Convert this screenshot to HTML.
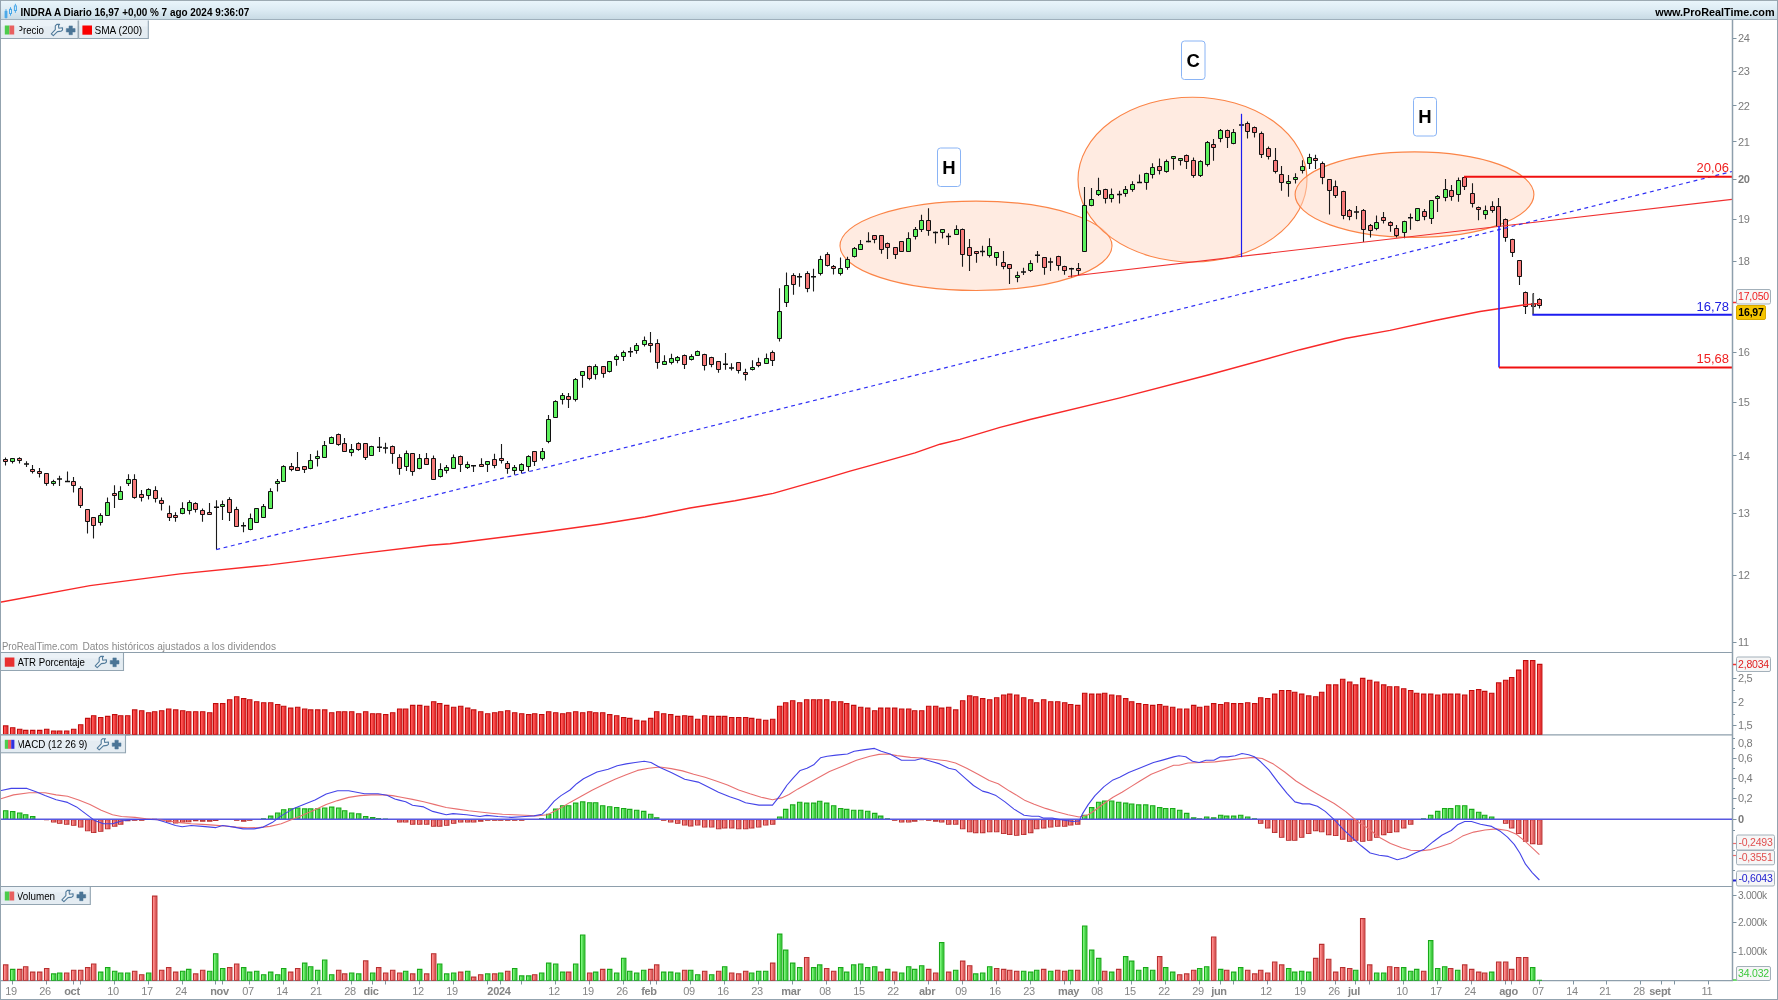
<!DOCTYPE html>
<html><head><meta charset="utf-8"><title>INDRA A Diario</title>
<style>
html,body{margin:0;padding:0;background:#fff;}
body{width:1778px;height:1000px;position:relative;overflow:hidden;font-family:"Liberation Sans",sans-serif;}
#hdr{position:absolute;left:0;top:0;width:1778px;height:20px;box-sizing:border-box;border-top:1px solid #9caab2;border-bottom:1px solid #9fb0bc;background:linear-gradient(#e9f5fb 0%,#dcebf3 50%,#c9dbe5 100%);}
#hdr .t{position:absolute;left:21px;top:4.5px;font-size:10.5px;font-weight:bold;color:#000;white-space:nowrap;line-height:12px;letter-spacing:-0.1px}
#hdr .r{position:absolute;right:3.5px;top:4.5px;font-size:10.5px;font-weight:bold;color:#000;white-space:nowrap;line-height:12px;}
.frame{position:absolute;background:#93a3af}
.tb{position:absolute;box-sizing:border-box;background:#e4ecf2;border:1px solid #a5b4c0;border-left:none;height:18.5px;font-size:10.5px;line-height:17px;color:#000;white-space:nowrap;letter-spacing:-0.2px}
.tb i{position:absolute;top:4px;width:9px;height:9px;display:block}
.tb span{position:absolute;top:0}
.foot{position:absolute;left:2px;top:641px;font-size:10px;color:#8a8a8a;white-space:nowrap;line-height:12px;letter-spacing:-0.12px}
</style></head><body>
<div id="hdr">
</div>
<svg width="1778" height="1000" viewBox="0 0 1778 1000" style="position:absolute;left:0;top:0;will-change:transform" font-family="Liberation Sans, sans-serif">
<defs>
<linearGradient id="gg" x1="0" x2="1" y1="0" y2="0"><stop offset="0" stop-color="#35c835"/><stop offset="0.35" stop-color="#6af06a"/><stop offset="1" stop-color="#2fb82f"/></linearGradient>
<linearGradient id="gr" x1="0" x2="1" y1="0" y2="0"><stop offset="0" stop-color="#d84a4a"/><stop offset="0.35" stop-color="#f08080"/><stop offset="1" stop-color="#cf4545"/></linearGradient>
<linearGradient id="ga" x1="0" x2="1" y1="0" y2="0"><stop offset="0" stop-color="#d81e1e"/><stop offset="0.4" stop-color="#f54444"/><stop offset="1" stop-color="#cc1a1a"/></linearGradient>
<clipPath id="cp"><rect x="1" y="21" width="1731" height="631"/></clipPath>
</defs>
<ellipse cx="976" cy="245.8" rx="136" ry="44.7" fill="#ffd7c3" fill-opacity="0.5" stroke="#fb8548" stroke-width="1.15"/>
<ellipse cx="1192.5" cy="179.6" rx="114.5" ry="82.4" fill="#ffd7c3" fill-opacity="0.5" stroke="#fb8548" stroke-width="1.15"/>
<ellipse cx="1414.5" cy="194.6" rx="119.4" ry="42.8" fill="#ffd7c3" fill-opacity="0.5" stroke="#fb8548" stroke-width="1.15"/>
<path d="M5.5,457.6V465.4M12.5,458.3V463.6M19.5,457.3V463.6M26.5,461.2V467.1M32.5,465.1V473.6M39.5,468.0V477.5M46.5,473.3V485.7M53.5,479.8V485.7M59.5,475.8V485.9M67.5,471.4V482.0M73.5,477.1V492.4M80.5,486.2V508.0M87.5,509.3V533.4M93.5,516.9V538.6M100.5,513.2V525.6M107.5,497.4V515.6M114.5,485.3V508.0M120.5,486.2V499.6M128.5,474.2V485.9M134.5,474.2V498.7M141.5,490.1V501.5M148.5,488.3V499.6M155.5,486.2V502.6M161.5,497.4V510.6M169.5,505.4V521.0M175.5,512.2V521.7M182.5,502.2V514.3M189.5,500.2V514.5M195.5,502.2V512.6M202.5,508.4V521.7M209.5,503.1V514.5M216.5,500.2V549.6M222.5,500.4V519.9M229.5,497.2V521.0M236.5,506.7V526.4M243.5,522.3V532.3M250.5,513.4V530.3M256.5,508.2V522.5M263.5,503.9V517.6M270.5,488.3V508.5M277.5,479.0V491.6M283.5,465.3V481.8M291.5,463.1V471.2M297.5,452.0V470.8M304.5,466.0V472.9M310.5,453.9V469.2M317.5,450.4V466.6M324.5,441.0V457.8M331.5,436.4V443.9M338.5,433.5V445.8M344.5,438.0V452.0M351.5,443.9V456.2M358.5,442.3V450.7M365.5,442.9V459.9M371.5,445.8V455.6M379.5,437.1V451.9M385.5,442.8V453.6M392.5,445.5V463.8M399.5,454.3V474.8M406.5,450.4V470.9M412.5,453.0V475.7M419.5,453.9V469.2M426.5,453.0V464.7M433.5,455.6V479.9M440.5,463.2V477.5M446.5,465.0V473.4M453.5,454.5V469.0M460.5,455.6V471.9M467.5,461.5V469.0M473.5,465.0V471.9M481.5,458.2V466.4M487.5,461.5V471.9M494.5,453.8V468.3M501.5,444.1V463.5M507.5,461.1V473.7M514.5,465.0V474.8M521.5,463.2V473.4M528.5,455.3V471.2M534.5,450.9V466.1M542.5,448.0V460.6M548.5,415.1V443.2M555.5,400.2V417.1M562.5,392.9V404.5M568.5,392.9V408.1M575.5,378.0V401.6M582.5,370.9V387.8M589.5,365.8V380.3M595.5,364.2V379.4M603.5,366.1V377.7M609.5,361.0V372.6M616.5,354.5V365.8M623.5,350.4V361.0M630.5,347.2V357.1M636.5,342.9V353.8M644.5,336.4V346.6M650.5,332.1V352.4M657.5,339.3V368.8M664.5,355.3V364.4M671.5,353.8V364.4M677.5,356.0V363.2M684.5,354.5V369.0M691.5,354.3V360.6M697.5,350.5V356.0M704.5,353.8V370.5M711.5,356.7V367.3M718.5,361.1V372.7M725.5,353.1V369.8M731.5,363.2V370.5M738.5,362.1V373.4M745.5,368.8V380.4M752.5,360.3V370.5M758.5,357.7V367.3M766.5,353.4V363.2M772.5,350.5V366.1M779.5,288.3V341.5M786.5,272.6V307.0M793.5,273.3V294.8M799.5,273.3V286.7M807.5,271.2V292.2M813.5,268.7V291.5M820.5,255.7V275.5M827.5,252.3V266.4M833.5,264.9V274.5M840.5,257.4V275.4M847.5,256.8V269.8M854.5,246.9V257.4M860.5,240.1V249.6M868.5,232.3V242.2M874.5,235.2V243.2M881.5,235.2V253.7M887.5,242.6V259.0M895.5,247.2V259.0M901.5,241.0V251.5M908.5,232.3V251.5M915.5,226.9V239.5M921.5,214.7V232.1M928.5,208.3V235.8M935.5,231.5V243.5M942.5,229.0V238.5M948.5,233.3V245.1M956.5,225.3V234.8M962.5,228.6V266.7M969.5,239.1V271.0M976.5,250.9V262.8M982.5,245.7V256.2M989.5,238.3V257.4M996.5,251.9V265.7M1003.5,250.9V269.2M1009.5,264.0V284.0M1017.5,271.4V282.2M1023.5,267.7V275.1M1030.5,260.3V271.9M1037.5,250.9V262.8M1044.5,257.4V274.8M1050.5,257.8V271.0M1058.5,255.7V270.5M1064.5,265.8V274.7M1071.5,267.7V277.2M1078.5,262.9V275.3M1084.5,186.9V251.5M1091.5,187.9V206.3M1098.5,177.8V196.0M1105.5,188.8V203.6M1111.5,188.4V202.5M1119.5,190.7V203.6M1125.5,186.0V196.8M1132.5,181.2V191.7M1139.5,174.6V183.1M1146.5,172.7V189.8M1152.5,163.2V178.4M1159.5,158.4V174.6M1166.5,159.4V172.7M1173.5,156.1V169.8M1180.5,158.0V165.6M1186.5,154.6V168.9M1193.5,157.5V177.8M1200.5,160.3V177.0M1207.5,140.9V166.4M1213.5,139.0V160.7M1220.5,129.0V142.3M1227.5,129.5V148.0M1233.5,129.0V144.2M1241.5,122.3V128.0M1247.5,121.4V138.5M1254.5,126.5V137.5M1261.5,131.4V158.0M1268.5,146.6V159.4M1275.5,148.0V173.6M1281.5,166.0V190.7M1288.5,175.1V196.8M1295.5,173.2V183.5M1302.5,160.3V173.6M1309.5,153.8V169.0M1315.5,154.7V169.0M1322.5,161.4V184.2M1329.5,179.0V214.6M1335.5,180.4V198.0M1343.5,190.8V219.3M1349.5,208.9V220.3M1356.5,206.0V219.3M1363.5,208.9V242.1M1370.5,224.1V237.4M1376.5,215.5V230.3M1383.5,212.1V223.5M1390.5,221.2V231.7M1396.5,225.0V237.4M1404.5,220.8V238.3M1410.5,213.6V229.8M1417.5,207.9V221.2M1424.5,208.9V220.3M1431.5,199.9V224.1M1437.5,195.0V212.1M1445.5,179.0V201.3M1451.5,185.1V200.7M1458.5,177.5V201.8M1464.5,176.6V189.9M1472.5,183.2V207.5M1478.5,206.4V220.3M1485.5,205.6V219.3M1492.5,201.3V212.7M1498.5,198.0V226.5M1505.5,218.4V241.7M1512.5,238.7V256.9M1519.5,260.2V284.9M1525.5,291.5V313.9M1533.5,293.0V307.7M1539.5,298.2V308.6" stroke="#1a1a1a" stroke-width="1.1" fill="none"/>
<path d="M10.5,458.5h4v3.0h-4zM51.5,481.5h4v2.0h-4zM98.5,515.5h4v7.0h-4zM105.5,502.5h4v13.0h-4zM118.5,491.5h4v8.0h-4zM126.5,479.5h4v4.0h-4zM146.5,489.5h4v6.0h-4zM180.5,508.5h4v5.0h-4zM187.5,502.5h4v8.0h-4zM220.5,504.5h4v2.0h-4zM248.5,518.5h4v11.0h-4zM254.5,508.5h4v14.0h-4zM261.5,506.5h4v11.0h-4zM268.5,491.5h4v17.0h-4zM275.5,481.5h4v2.0h-4zM281.5,466.5h4v15.0h-4zM308.5,460.5h4v8.0h-4zM315.5,456.5h4v2.0h-4zM322.5,445.5h4v12.0h-4zM329.5,437.5h4v6.0h-4zM349.5,449.5h4v3.0h-4zM369.5,446.5h4v9.0h-4zM404.5,453.5h4v13.0h-4zM417.5,458.5h4v10.0h-4zM438.5,469.5h4v7.0h-4zM444.5,467.5h4v3.0h-4zM451.5,457.5h4v11.0h-4zM465.5,464.5h4v3.0h-4zM485.5,461.5h4v3.0h-4zM512.5,467.5h4v3.0h-4zM519.5,464.5h4v6.0h-4zM526.5,456.5h4v10.0h-4zM540.5,451.5h4v7.0h-4zM546.5,419.5h4v22.0h-4zM553.5,401.5h4v16.0h-4zM560.5,395.5h4v4.0h-4zM573.5,379.5h4v20.0h-4zM580.5,371.5h4v4.0h-4zM593.5,366.5h4v8.0h-4zM607.5,361.5h4v10.0h-4zM614.5,356.5h4v3.0h-4zM621.5,352.5h4v4.0h-4zM634.5,345.5h4v5.0h-4zM642.5,340.5h4v4.0h-4zM662.5,361.5h4v3.0h-4zM669.5,358.5h4v4.0h-4zM675.5,357.5h4v3.0h-4zM689.5,356.5h4v3.0h-4zM695.5,351.5h4v4.0h-4zM750.5,367.5h4v2.0h-4zM764.5,358.5h4v5.0h-4zM777.5,311.5h4v27.0h-4zM784.5,285.5h4v17.0h-4zM818.5,259.5h4v14.0h-4zM838.5,268.5h4v5.0h-4zM845.5,259.5h4v8.0h-4zM852.5,248.5h4v8.0h-4zM858.5,244.5h4v5.0h-4zM906.5,238.5h4v13.0h-4zM913.5,229.5h4v7.0h-4zM919.5,220.5h4v9.0h-4zM940.5,229.5h4v3.0h-4zM954.5,229.5h4v5.0h-4zM987.5,246.5h4v9.0h-4zM994.5,252.5h4v5.0h-4zM1015.5,275.5h4v2.0h-4zM1028.5,263.5h4v7.0h-4zM1082.5,205.5h4v46.0h-4zM1089.5,199.5h4v6.0h-4zM1096.5,190.5h4v4.0h-4zM1109.5,194.5h4v4.0h-4zM1123.5,189.5h4v4.0h-4zM1130.5,184.5h4v5.0h-4zM1144.5,173.5h4v9.0h-4zM1150.5,167.5h4v7.0h-4zM1164.5,161.5h4v10.0h-4zM1171.5,156.5h4v2.0h-4zM1178.5,158.5h4v2.0h-4zM1198.5,161.5h4v14.0h-4zM1205.5,142.5h4v22.0h-4zM1218.5,130.5h4v8.0h-4zM1231.5,132.5h4v11.0h-4zM1286.5,181.5h4v2.0h-4zM1293.5,177.5h4v2.0h-4zM1300.5,166.5h4v4.0h-4zM1307.5,157.5h4v6.0h-4zM1374.5,222.5h4v6.0h-4zM1402.5,221.5h4v11.0h-4zM1415.5,208.5h4v12.0h-4zM1429.5,200.5h4v18.0h-4zM1435.5,196.5h4v2.0h-4zM1443.5,189.5h4v8.0h-4zM1456.5,180.5h4v14.0h-4zM1483.5,210.5h4v4.0h-4z" fill="#5df05d" stroke="#101010" stroke-width="1"/>
<path d="M3.5,459.5h4v2.0h-4zM17.5,458.5h4v2.0h-4zM30.5,469.5h4v2.0h-4zM37.5,471.5h4v2.0h-4zM44.5,473.5h4v10.0h-4zM71.5,481.5h4v4.0h-4zM78.5,488.5h4v17.0h-4zM85.5,509.5h4v12.0h-4zM91.5,517.5h4v8.0h-4zM112.5,493.5h4v2.0h-4zM132.5,479.5h4v18.0h-4zM139.5,494.5h4v3.0h-4zM153.5,490.5h4v8.0h-4zM159.5,500.5h4v3.0h-4zM167.5,513.5h4v4.0h-4zM173.5,515.5h4v2.0h-4zM193.5,503.5h4v6.0h-4zM200.5,510.5h4v4.0h-4zM207.5,512.5h4v2.0h-4zM227.5,499.5h4v13.0h-4zM234.5,509.5h4v17.0h-4zM289.5,466.5h4v3.0h-4zM295.5,467.5h4v3.0h-4zM302.5,466.5h4v3.0h-4zM336.5,434.5h4v10.0h-4zM342.5,443.5h4v8.0h-4zM356.5,443.5h4v6.0h-4zM363.5,443.5h4v14.0h-4zM390.5,446.5h4v7.0h-4zM397.5,457.5h4v11.0h-4zM410.5,453.5h4v18.0h-4zM424.5,458.5h4v6.0h-4zM431.5,458.5h4v21.0h-4zM458.5,456.5h4v8.0h-4zM479.5,464.5h4v2.0h-4zM492.5,459.5h4v6.0h-4zM499.5,458.5h4v2.0h-4zM505.5,463.5h4v5.0h-4zM532.5,451.5h4v10.0h-4zM566.5,396.5h4v3.0h-4zM587.5,366.5h4v12.0h-4zM601.5,366.5h4v7.0h-4zM648.5,343.5h4v2.0h-4zM655.5,343.5h4v19.0h-4zM682.5,355.5h4v9.0h-4zM702.5,354.5h4v11.0h-4zM709.5,357.5h4v7.0h-4zM716.5,361.5h4v8.0h-4zM736.5,362.5h4v8.0h-4zM743.5,372.5h4v2.0h-4zM756.5,362.5h4v3.0h-4zM770.5,352.5h4v8.0h-4zM791.5,275.5h4v9.0h-4zM805.5,273.5h4v15.0h-4zM825.5,254.5h4v11.0h-4zM831.5,266.5h4v2.0h-4zM872.5,235.5h4v4.0h-4zM879.5,235.5h4v14.0h-4zM885.5,243.5h4v4.0h-4zM893.5,247.5h4v7.0h-4zM899.5,241.5h4v10.0h-4zM926.5,220.5h4v10.0h-4zM960.5,229.5h4v25.0h-4zM967.5,247.5h4v8.0h-4zM974.5,251.5h4v2.0h-4zM1001.5,262.5h4v4.0h-4zM1007.5,264.5h4v4.0h-4zM1042.5,257.5h4v10.0h-4zM1056.5,256.5h4v9.0h-4zM1062.5,266.5h4v4.0h-4zM1076.5,268.5h4v2.0h-4zM1103.5,189.5h4v9.0h-4zM1157.5,166.5h4v4.0h-4zM1184.5,155.5h4v6.0h-4zM1191.5,160.5h4v15.0h-4zM1211.5,144.5h4v3.0h-4zM1225.5,130.5h4v7.0h-4zM1245.5,123.5h4v8.0h-4zM1252.5,127.5h4v5.0h-4zM1259.5,133.5h4v21.0h-4zM1266.5,148.5h4v8.0h-4zM1273.5,160.5h4v11.0h-4zM1279.5,174.5h4v8.0h-4zM1313.5,158.5h4v2.0h-4zM1320.5,163.5h4v14.0h-4zM1327.5,179.5h4v11.0h-4zM1333.5,186.5h4v9.0h-4zM1341.5,191.5h4v24.0h-4zM1347.5,210.5h4v6.0h-4zM1361.5,210.5h4v19.0h-4zM1368.5,225.5h4v5.0h-4zM1381.5,217.5h4v3.0h-4zM1388.5,222.5h4v3.0h-4zM1394.5,228.5h4v7.0h-4zM1422.5,211.5h4v5.0h-4zM1449.5,190.5h4v6.0h-4zM1462.5,177.5h4v9.0h-4zM1470.5,193.5h4v10.0h-4zM1476.5,207.5h4v2.0h-4zM1490.5,206.5h4v4.0h-4zM1496.5,206.5h4v20.0h-4zM1503.5,219.5h4v18.0h-4zM1510.5,239.5h4v13.0h-4zM1517.5,260.5h4v16.0h-4zM1523.5,292.5h4v14.0h-4zM1531.5,303.5h4v3.0h-4zM1537.5,299.5h4v6.0h-4z" fill="#f57878" stroke="#101010" stroke-width="1"/>
<path d="M24.0,464.1h5M57.0,479.1h5M65.0,481.6h5M214.0,507.2h5M241.0,525.7h5M377.0,447.2h5M383.0,448.1h5M471.0,465.8h5M628.0,351.8h5M723.0,364.3h5M729.0,368.0h5M797.0,276.7h5M811.0,276.8h5M866.0,241.5h5M933.0,232.4h5M946.0,236.5h5M980.0,251.5h5M1021.0,272.0h5M1035.0,255.2h5M1048.0,261.9h5M1069.0,268.7h5M1117.0,194.4h5M1137.0,182.4h5M1239.0,124.9h5M1354.0,212.0h5M1408.0,217.7h5" stroke="#101010" stroke-width="1.5" fill="none"/>
<polyline points="0.0,602.2 90.0,585.6 180.0,573.9 270.0,564.9 360.0,553.6 430.0,545.3 450.0,543.7 540.0,532.5 600.0,524.2 645.0,517.0 690.0,508.0 735.0,500.8 773.2,493.4 825.0,478.7 850.0,471.2 870.0,465.7 915.0,452.9 940.0,444.2 960.0,439.4 1000.0,427.4 1030.0,419.5 1120.0,397.9 1210.0,374.5 1300.0,349.7 1345.0,338.5 1390.0,330.4 1435.0,320.5 1480.0,311.5 1525.0,304.7 1540.6,303.4" fill="none" stroke="#f82828" stroke-width="1.4"/>
<line x1="1068" y1="276.5" x2="1732" y2="199.3" stroke="#f03030" stroke-width="1.2"/>
<line x1="216.3" y1="549.6" x2="1732" y2="171.5" stroke="#3030f5" stroke-width="1.2" stroke-dasharray="3.9,3.6"/>
<line x1="1241.5" y1="113.8" x2="1241.5" y2="257.2" stroke="#1c1cf0" stroke-width="1.2"/>
<path d="M1464,176.8 H1732" stroke="#f01010" stroke-width="2" fill="none"/>
<path d="M1499,226 V367.5" stroke="#2222f8" stroke-width="1.6" fill="none"/>
<path d="M1499,367.5 H1732" stroke="#f01010" stroke-width="2" fill="none"/>
<path d="M1533.1,293.6 V314.6" stroke="#5c5c5c" stroke-width="1.8" fill="none"/>
<path d="M1532.4,314.8 H1732" stroke="#1c1cf0" stroke-width="2" fill="none"/>
<rect x="937.5" y="148" width="23" height="38.5" rx="3" fill="#fff" stroke="#8ab4f5" stroke-width="1"/>
<text x="949.0" y="173.85" font-size="18.5" font-weight="bold" text-anchor="middle" fill="#000">H</text>
<rect x="1181.5" y="41" width="23.5" height="38.5" rx="3" fill="#fff" stroke="#8ab4f5" stroke-width="1"/>
<text x="1193.25" y="66.85" font-size="18.5" font-weight="bold" text-anchor="middle" fill="#000">C</text>
<rect x="1413.5" y="97.5" width="23" height="38.5" rx="3" fill="#fff" stroke="#8ab4f5" stroke-width="1"/>
<text x="1425.0" y="123.35" font-size="18.5" font-weight="bold" text-anchor="middle" fill="#000">H</text>
<text x="1729" y="172.2" font-size="13" text-anchor="end" fill="#f02020">20,06</text>
<text x="1729" y="311.3" font-size="13" text-anchor="end" fill="#2020e0">16,78</text>
<text x="1729" y="362.8" font-size="13" text-anchor="end" fill="#f02020">15,68</text>
<line x1="0" y1="652.5" x2="1732" y2="652.5" stroke="#8e9fac" stroke-width="1.2"/>
<line x1="0" y1="734.8" x2="1732" y2="734.8" stroke="#8e9fac" stroke-width="1.2"/>
<line x1="0" y1="886.5" x2="1732" y2="886.5" stroke="#8e9fac" stroke-width="1.2"/>
<line x1="0" y1="980.6" x2="1733" y2="980.6" stroke="#8e9fac" stroke-width="1.4"/>
<line x1="1732.5" y1="20" x2="1732.5" y2="981" stroke="#8e9fac" stroke-width="1.5"/>
<path d="M3.5,725.9h4.4V734.2h-4.4zM10.5,727.7h4.4V734.2h-4.4zM17.5,729.2h4.4V734.2h-4.4zM23.5,730.4h4.4V734.2h-4.4zM30.5,730.4h4.4V734.2h-4.4zM37.5,730.4h4.4V734.2h-4.4zM44.5,729.2h4.4V734.2h-4.4zM51.5,731.0h4.4V734.2h-4.4zM57.5,731.0h4.4V734.2h-4.4zM64.5,731.0h4.4V734.2h-4.4zM71.5,729.2h4.4V734.2h-4.4zM78.5,724.7h4.4V734.2h-4.4zM85.5,718.4h4.4V734.2h-4.4zM91.5,715.7h4.4V734.2h-4.4zM98.5,717.5h4.4V734.2h-4.4zM105.5,716.4h4.4V734.2h-4.4zM112.5,714.6h4.4V734.2h-4.4zM118.5,715.7h4.4V734.2h-4.4zM125.5,715.7h4.4V734.2h-4.4zM132.5,709.9h4.4V734.2h-4.4zM139.5,710.8h4.4V734.2h-4.4zM146.5,712.8h4.4V734.2h-4.4zM152.5,711.7h4.4V734.2h-4.4zM159.5,710.8h4.4V734.2h-4.4zM166.5,709.0h4.4V734.2h-4.4zM173.5,709.9h4.4V734.2h-4.4zM180.5,710.8h4.4V734.2h-4.4zM186.5,711.7h4.4V734.2h-4.4zM193.5,711.7h4.4V734.2h-4.4zM200.5,711.7h4.4V734.2h-4.4zM207.5,712.8h4.4V734.2h-4.4zM213.5,703.6h4.4V734.2h-4.4zM220.5,703.6h4.4V734.2h-4.4zM227.5,699.8h4.4V734.2h-4.4zM234.5,696.8h4.4V734.2h-4.4zM241.5,698.6h4.4V734.2h-4.4zM247.5,699.8h4.4V734.2h-4.4zM254.5,701.8h4.4V734.2h-4.4zM261.5,702.7h4.4V734.2h-4.4zM268.5,702.7h4.4V734.2h-4.4zM275.5,704.5h4.4V734.2h-4.4zM281.5,706.3h4.4V734.2h-4.4zM288.5,708.1h4.4V734.2h-4.4zM295.5,707.2h4.4V734.2h-4.4zM302.5,709.0h4.4V734.2h-4.4zM308.5,709.9h4.4V734.2h-4.4zM315.5,709.9h4.4V734.2h-4.4zM322.5,709.9h4.4V734.2h-4.4zM329.5,712.8h4.4V734.2h-4.4zM336.5,711.7h4.4V734.2h-4.4zM342.5,711.7h4.4V734.2h-4.4zM349.5,711.7h4.4V734.2h-4.4zM356.5,713.7h4.4V734.2h-4.4zM363.5,711.7h4.4V734.2h-4.4zM370.5,713.7h4.4V734.2h-4.4zM376.5,713.7h4.4V734.2h-4.4zM383.5,714.6h4.4V734.2h-4.4zM390.5,712.8h4.4V734.2h-4.4zM397.5,709.0h4.4V734.2h-4.4zM403.5,709.0h4.4V734.2h-4.4zM410.5,705.4h4.4V734.2h-4.4zM417.5,705.4h4.4V734.2h-4.4zM424.5,706.3h4.4V734.2h-4.4zM431.5,701.8h4.4V734.2h-4.4zM437.5,703.6h4.4V734.2h-4.4zM444.5,705.4h4.4V734.2h-4.4zM451.5,707.2h4.4V734.2h-4.4zM458.5,706.3h4.4V734.2h-4.4zM465.5,708.1h4.4V734.2h-4.4zM471.5,709.9h4.4V734.2h-4.4zM478.5,711.7h4.4V734.2h-4.4zM485.5,713.7h4.4V734.2h-4.4zM492.5,712.8h4.4V734.2h-4.4zM498.5,711.7h4.4V734.2h-4.4zM505.5,710.8h4.4V734.2h-4.4zM512.5,712.8h4.4V734.2h-4.4zM519.5,713.7h4.4V734.2h-4.4zM526.5,714.6h4.4V734.2h-4.4zM532.5,713.7h4.4V734.2h-4.4zM539.5,714.6h4.4V734.2h-4.4zM546.5,711.7h4.4V734.2h-4.4zM553.5,712.8h4.4V734.2h-4.4zM560.5,713.7h4.4V734.2h-4.4zM566.5,712.8h4.4V734.2h-4.4zM573.5,711.7h4.4V734.2h-4.4zM580.5,712.8h4.4V734.2h-4.4zM587.5,711.7h4.4V734.2h-4.4zM593.5,712.8h4.4V734.2h-4.4zM600.5,712.8h4.4V734.2h-4.4zM607.5,714.6h4.4V734.2h-4.4zM614.5,715.7h4.4V734.2h-4.4zM621.5,717.5h4.4V734.2h-4.4zM627.5,718.4h4.4V734.2h-4.4zM634.5,720.2h4.4V734.2h-4.4zM641.5,721.1h4.4V734.2h-4.4zM648.5,718.4h4.4V734.2h-4.4zM654.5,711.7h4.4V734.2h-4.4zM661.5,713.7h4.4V734.2h-4.4zM668.5,714.6h4.4V734.2h-4.4zM675.5,716.4h4.4V734.2h-4.4zM682.5,715.7h4.4V734.2h-4.4zM688.5,716.4h4.4V734.2h-4.4zM695.5,719.3h4.4V734.2h-4.4zM702.5,715.7h4.4V734.2h-4.4zM709.5,716.4h4.4V734.2h-4.4zM716.5,716.4h4.4V734.2h-4.4zM722.5,716.4h4.4V734.2h-4.4zM729.5,717.5h4.4V734.2h-4.4zM736.5,717.5h4.4V734.2h-4.4zM743.5,717.5h4.4V734.2h-4.4zM749.5,718.4h4.4V734.2h-4.4zM756.5,719.3h4.4V734.2h-4.4zM763.5,720.2h4.4V734.2h-4.4zM770.5,719.3h4.4V734.2h-4.4zM777.5,706.3h4.4V734.2h-4.4zM783.5,702.7h4.4V734.2h-4.4zM790.5,700.7h4.4V734.2h-4.4zM797.5,702.7h4.4V734.2h-4.4zM804.5,699.8h4.4V734.2h-4.4zM811.5,699.8h4.4V734.2h-4.4zM817.5,699.8h4.4V734.2h-4.4zM824.5,699.8h4.4V734.2h-4.4zM831.5,701.8h4.4V734.2h-4.4zM838.5,701.8h4.4V734.2h-4.4zM844.5,703.6h4.4V734.2h-4.4zM851.5,705.4h4.4V734.2h-4.4zM858.5,707.2h4.4V734.2h-4.4zM865.5,708.1h4.4V734.2h-4.4zM872.5,710.8h4.4V734.2h-4.4zM878.5,708.1h4.4V734.2h-4.4zM885.5,708.1h4.4V734.2h-4.4zM892.5,708.1h4.4V734.2h-4.4zM899.5,709.0h4.4V734.2h-4.4zM906.5,709.0h4.4V734.2h-4.4zM912.5,710.8h4.4V734.2h-4.4zM919.5,710.8h4.4V734.2h-4.4zM926.5,706.3h4.4V734.2h-4.4zM933.5,706.3h4.4V734.2h-4.4zM939.5,708.1h4.4V734.2h-4.4zM946.5,707.2h4.4V734.2h-4.4zM953.5,709.9h4.4V734.2h-4.4zM960.5,700.7h4.4V734.2h-4.4zM967.5,695.9h4.4V734.2h-4.4zM973.5,696.8h4.4V734.2h-4.4zM980.5,698.6h4.4V734.2h-4.4zM987.5,699.8h4.4V734.2h-4.4zM994.5,697.7h4.4V734.2h-4.4zM1001.5,695.0h4.4V734.2h-4.4zM1007.5,694.1h4.4V734.2h-4.4zM1014.5,695.0h4.4V734.2h-4.4zM1021.5,697.7h4.4V734.2h-4.4zM1028.5,699.8h4.4V734.2h-4.4zM1034.5,702.7h4.4V734.2h-4.4zM1041.5,699.8h4.4V734.2h-4.4zM1048.5,701.8h4.4V734.2h-4.4zM1055.5,701.8h4.4V734.2h-4.4zM1062.5,702.7h4.4V734.2h-4.4zM1068.5,704.5h4.4V734.2h-4.4zM1075.5,705.4h4.4V734.2h-4.4zM1082.5,693.2h4.4V734.2h-4.4zM1089.5,694.1h4.4V734.2h-4.4zM1096.5,694.1h4.4V734.2h-4.4zM1102.5,693.2h4.4V734.2h-4.4zM1109.5,695.0h4.4V734.2h-4.4zM1116.5,695.9h4.4V734.2h-4.4zM1123.5,698.6h4.4V734.2h-4.4zM1129.5,701.8h4.4V734.2h-4.4zM1136.5,703.6h4.4V734.2h-4.4zM1143.5,704.5h4.4V734.2h-4.4zM1150.5,705.4h4.4V734.2h-4.4zM1157.5,704.5h4.4V734.2h-4.4zM1163.5,706.3h4.4V734.2h-4.4zM1170.5,707.2h4.4V734.2h-4.4zM1177.5,709.0h4.4V734.2h-4.4zM1184.5,709.0h4.4V734.2h-4.4zM1191.5,705.4h4.4V734.2h-4.4zM1197.5,707.2h4.4V734.2h-4.4zM1204.5,706.3h4.4V734.2h-4.4zM1211.5,703.6h4.4V734.2h-4.4zM1218.5,704.5h4.4V734.2h-4.4zM1224.5,702.7h4.4V734.2h-4.4zM1231.5,703.6h4.4V734.2h-4.4zM1238.5,703.6h4.4V734.2h-4.4zM1245.5,702.7h4.4V734.2h-4.4zM1252.5,703.6h4.4V734.2h-4.4zM1258.5,697.7h4.4V734.2h-4.4zM1265.5,698.6h4.4V734.2h-4.4zM1272.5,694.1h4.4V734.2h-4.4zM1279.5,690.5h4.4V734.2h-4.4zM1286.5,690.5h4.4V734.2h-4.4zM1292.5,692.3h4.4V734.2h-4.4zM1299.5,694.1h4.4V734.2h-4.4zM1306.5,695.9h4.4V734.2h-4.4zM1313.5,696.8h4.4V734.2h-4.4zM1319.5,692.3h4.4V734.2h-4.4zM1326.5,684.9h4.4V734.2h-4.4zM1333.5,684.9h4.4V734.2h-4.4zM1340.5,679.3h4.4V734.2h-4.4zM1347.5,682.0h4.4V734.2h-4.4zM1353.5,684.9h4.4V734.2h-4.4zM1360.5,678.4h4.4V734.2h-4.4zM1367.5,680.2h4.4V734.2h-4.4zM1374.5,682.0h4.4V734.2h-4.4zM1381.5,684.9h4.4V734.2h-4.4zM1387.5,686.7h4.4V734.2h-4.4zM1394.5,686.7h4.4V734.2h-4.4zM1401.5,688.7h4.4V734.2h-4.4zM1408.5,690.5h4.4V734.2h-4.4zM1414.5,693.2h4.4V734.2h-4.4zM1421.5,694.1h4.4V734.2h-4.4zM1428.5,694.1h4.4V734.2h-4.4zM1435.5,695.0h4.4V734.2h-4.4zM1442.5,694.1h4.4V734.2h-4.4zM1448.5,694.1h4.4V734.2h-4.4zM1455.5,694.1h4.4V734.2h-4.4zM1462.5,695.0h4.4V734.2h-4.4zM1469.5,690.5h4.4V734.2h-4.4zM1476.5,689.6h4.4V734.2h-4.4zM1482.5,691.4h4.4V734.2h-4.4zM1489.5,693.2h4.4V734.2h-4.4zM1496.5,682.9h4.4V734.2h-4.4zM1503.5,680.2h4.4V734.2h-4.4zM1509.5,677.5h4.4V734.2h-4.4zM1516.5,670.1h4.4V734.2h-4.4zM1523.5,660.6h4.4V734.2h-4.4zM1530.5,660.6h4.4V734.2h-4.4zM1537.5,664.4h4.4V734.2h-4.4z" fill="#f04040" stroke="#c00c0c" stroke-width="1.1"/>
<path d="M4.7,726.6V734.0M11.7,728.4V734.0M18.7,729.9V734.0M24.7,731.1V734.0M31.7,731.1V734.0M38.7,731.1V734.0M45.7,729.9V734.0M52.7,731.7V734.0M58.7,731.7V734.0M65.7,731.7V734.0M72.7,729.9V734.0M79.7,725.4V734.0M86.7,719.1V734.0M92.7,716.4V734.0M99.7,718.2V734.0M106.7,717.1V734.0M113.7,715.3V734.0M119.7,716.4V734.0M126.7,716.4V734.0M133.7,710.6V734.0M140.7,711.5V734.0M147.7,713.5V734.0M153.7,712.4V734.0M160.7,711.5V734.0M167.7,709.7V734.0M174.7,710.6V734.0M181.7,711.5V734.0M187.7,712.4V734.0M194.7,712.4V734.0M201.7,712.4V734.0M208.7,713.5V734.0M214.7,704.3V734.0M221.7,704.3V734.0M228.7,700.5V734.0M235.7,697.5V734.0M242.7,699.3V734.0M248.7,700.5V734.0M255.7,702.5V734.0M262.7,703.4V734.0M269.7,703.4V734.0M276.7,705.2V734.0M282.7,707.0V734.0M289.7,708.8V734.0M296.7,707.9V734.0M303.7,709.7V734.0M309.7,710.6V734.0M316.7,710.6V734.0M323.7,710.6V734.0M330.7,713.5V734.0M337.7,712.4V734.0M343.7,712.4V734.0M350.7,712.4V734.0M357.7,714.4V734.0M364.7,712.4V734.0M371.7,714.4V734.0M377.7,714.4V734.0M384.7,715.3V734.0M391.7,713.5V734.0M398.7,709.7V734.0M404.7,709.7V734.0M411.7,706.1V734.0M418.7,706.1V734.0M425.7,707.0V734.0M432.7,702.5V734.0M438.7,704.3V734.0M445.7,706.1V734.0M452.7,707.9V734.0M459.7,707.0V734.0M466.7,708.8V734.0M472.7,710.6V734.0M479.7,712.4V734.0M486.7,714.4V734.0M493.7,713.5V734.0M499.7,712.4V734.0M506.7,711.5V734.0M513.7,713.5V734.0M520.7,714.4V734.0M527.7,715.3V734.0M533.7,714.4V734.0M540.7,715.3V734.0M547.7,712.4V734.0M554.7,713.5V734.0M561.7,714.4V734.0M567.7,713.5V734.0M574.7,712.4V734.0M581.7,713.5V734.0M588.7,712.4V734.0M594.7,713.5V734.0M601.7,713.5V734.0M608.7,715.3V734.0M615.7,716.4V734.0M622.7,718.2V734.0M628.7,719.1V734.0M635.7,720.9V734.0M642.7,721.8V734.0M649.7,719.1V734.0M655.7,712.4V734.0M662.7,714.4V734.0M669.7,715.3V734.0M676.7,717.1V734.0M683.7,716.4V734.0M689.7,717.1V734.0M696.7,720.0V734.0M703.7,716.4V734.0M710.7,717.1V734.0M717.7,717.1V734.0M723.7,717.1V734.0M730.7,718.2V734.0M737.7,718.2V734.0M744.7,718.2V734.0M750.7,719.1V734.0M757.7,720.0V734.0M764.7,720.9V734.0M771.7,720.0V734.0M778.7,707.0V734.0M784.7,703.4V734.0M791.7,701.4V734.0M798.7,703.4V734.0M805.7,700.5V734.0M812.7,700.5V734.0M818.7,700.5V734.0M825.7,700.5V734.0M832.7,702.5V734.0M839.7,702.5V734.0M845.7,704.3V734.0M852.7,706.1V734.0M859.7,707.9V734.0M866.7,708.8V734.0M873.7,711.5V734.0M879.7,708.8V734.0M886.7,708.8V734.0M893.7,708.8V734.0M900.7,709.7V734.0M907.7,709.7V734.0M913.7,711.5V734.0M920.7,711.5V734.0M927.7,707.0V734.0M934.7,707.0V734.0M940.7,708.8V734.0M947.7,707.9V734.0M954.7,710.6V734.0M961.7,701.4V734.0M968.7,696.6V734.0M974.7,697.5V734.0M981.7,699.3V734.0M988.7,700.5V734.0M995.7,698.4V734.0M1002.7,695.7V734.0M1008.7,694.8V734.0M1015.7,695.7V734.0M1022.7,698.4V734.0M1029.7,700.5V734.0M1035.7,703.4V734.0M1042.7,700.5V734.0M1049.7,702.5V734.0M1056.7,702.5V734.0M1063.7,703.4V734.0M1069.7,705.2V734.0M1076.7,706.1V734.0M1083.7,693.9V734.0M1090.7,694.8V734.0M1097.7,694.8V734.0M1103.7,693.9V734.0M1110.7,695.7V734.0M1117.7,696.6V734.0M1124.7,699.3V734.0M1130.7,702.5V734.0M1137.7,704.3V734.0M1144.7,705.2V734.0M1151.7,706.1V734.0M1158.7,705.2V734.0M1164.7,707.0V734.0M1171.7,707.9V734.0M1178.7,709.7V734.0M1185.7,709.7V734.0M1192.7,706.1V734.0M1198.7,707.9V734.0M1205.7,707.0V734.0M1212.7,704.3V734.0M1219.7,705.2V734.0M1225.7,703.4V734.0M1232.7,704.3V734.0M1239.7,704.3V734.0M1246.7,703.4V734.0M1253.7,704.3V734.0M1259.7,698.4V734.0M1266.7,699.3V734.0M1273.7,694.8V734.0M1280.7,691.2V734.0M1287.7,691.2V734.0M1293.7,693.0V734.0M1300.7,694.8V734.0M1307.7,696.6V734.0M1314.7,697.5V734.0M1320.7,693.0V734.0M1327.7,685.6V734.0M1334.7,685.6V734.0M1341.7,680.0V734.0M1348.7,682.7V734.0M1354.7,685.6V734.0M1361.7,679.1V734.0M1368.7,680.9V734.0M1375.7,682.7V734.0M1382.7,685.6V734.0M1388.7,687.4V734.0M1395.7,687.4V734.0M1402.7,689.4V734.0M1409.7,691.2V734.0M1415.7,693.9V734.0M1422.7,694.8V734.0M1429.7,694.8V734.0M1436.7,695.7V734.0M1443.7,694.8V734.0M1449.7,694.8V734.0M1456.7,694.8V734.0M1463.7,695.7V734.0M1470.7,691.2V734.0M1477.7,690.3V734.0M1483.7,692.1V734.0M1490.7,693.9V734.0M1497.7,683.6V734.0M1504.7,680.9V734.0M1510.7,678.2V734.0M1517.7,670.8V734.0M1524.7,661.3V734.0M1531.7,661.3V734.0M1538.7,665.1V734.0" fill="none" stroke="#ff5656" stroke-width="1.3"/>
<path d="M6.7,726.6V734.0M13.7,728.4V734.0M20.7,729.9V734.0M26.7,731.1V734.0M33.7,731.1V734.0M40.7,731.1V734.0M47.7,729.9V734.0M54.7,731.7V734.0M60.7,731.7V734.0M67.7,731.7V734.0M74.7,729.9V734.0M81.7,725.4V734.0M88.7,719.1V734.0M94.7,716.4V734.0M101.7,718.2V734.0M108.7,717.1V734.0M115.7,715.3V734.0M121.7,716.4V734.0M128.7,716.4V734.0M135.7,710.6V734.0M142.7,711.5V734.0M149.7,713.5V734.0M155.7,712.4V734.0M162.7,711.5V734.0M169.7,709.7V734.0M176.7,710.6V734.0M183.7,711.5V734.0M189.7,712.4V734.0M196.7,712.4V734.0M203.7,712.4V734.0M210.7,713.5V734.0M216.7,704.3V734.0M223.7,704.3V734.0M230.7,700.5V734.0M237.7,697.5V734.0M244.7,699.3V734.0M250.7,700.5V734.0M257.7,702.5V734.0M264.7,703.4V734.0M271.7,703.4V734.0M278.7,705.2V734.0M284.7,707.0V734.0M291.7,708.8V734.0M298.7,707.9V734.0M305.7,709.7V734.0M311.7,710.6V734.0M318.7,710.6V734.0M325.7,710.6V734.0M332.7,713.5V734.0M339.7,712.4V734.0M345.7,712.4V734.0M352.7,712.4V734.0M359.7,714.4V734.0M366.7,712.4V734.0M373.7,714.4V734.0M379.7,714.4V734.0M386.7,715.3V734.0M393.7,713.5V734.0M400.7,709.7V734.0M406.7,709.7V734.0M413.7,706.1V734.0M420.7,706.1V734.0M427.7,707.0V734.0M434.7,702.5V734.0M440.7,704.3V734.0M447.7,706.1V734.0M454.7,707.9V734.0M461.7,707.0V734.0M468.7,708.8V734.0M474.7,710.6V734.0M481.7,712.4V734.0M488.7,714.4V734.0M495.7,713.5V734.0M501.7,712.4V734.0M508.7,711.5V734.0M515.7,713.5V734.0M522.7,714.4V734.0M529.7,715.3V734.0M535.7,714.4V734.0M542.7,715.3V734.0M549.7,712.4V734.0M556.7,713.5V734.0M563.7,714.4V734.0M569.7,713.5V734.0M576.7,712.4V734.0M583.7,713.5V734.0M590.7,712.4V734.0M596.7,713.5V734.0M603.7,713.5V734.0M610.7,715.3V734.0M617.7,716.4V734.0M624.7,718.2V734.0M630.7,719.1V734.0M637.7,720.9V734.0M644.7,721.8V734.0M651.7,719.1V734.0M657.7,712.4V734.0M664.7,714.4V734.0M671.7,715.3V734.0M678.7,717.1V734.0M685.7,716.4V734.0M691.7,717.1V734.0M698.7,720.0V734.0M705.7,716.4V734.0M712.7,717.1V734.0M719.7,717.1V734.0M725.7,717.1V734.0M732.7,718.2V734.0M739.7,718.2V734.0M746.7,718.2V734.0M752.7,719.1V734.0M759.7,720.0V734.0M766.7,720.9V734.0M773.7,720.0V734.0M780.7,707.0V734.0M786.7,703.4V734.0M793.7,701.4V734.0M800.7,703.4V734.0M807.7,700.5V734.0M814.7,700.5V734.0M820.7,700.5V734.0M827.7,700.5V734.0M834.7,702.5V734.0M841.7,702.5V734.0M847.7,704.3V734.0M854.7,706.1V734.0M861.7,707.9V734.0M868.7,708.8V734.0M875.7,711.5V734.0M881.7,708.8V734.0M888.7,708.8V734.0M895.7,708.8V734.0M902.7,709.7V734.0M909.7,709.7V734.0M915.7,711.5V734.0M922.7,711.5V734.0M929.7,707.0V734.0M936.7,707.0V734.0M942.7,708.8V734.0M949.7,707.9V734.0M956.7,710.6V734.0M963.7,701.4V734.0M970.7,696.6V734.0M976.7,697.5V734.0M983.7,699.3V734.0M990.7,700.5V734.0M997.7,698.4V734.0M1004.7,695.7V734.0M1010.7,694.8V734.0M1017.7,695.7V734.0M1024.7,698.4V734.0M1031.7,700.5V734.0M1037.7,703.4V734.0M1044.7,700.5V734.0M1051.7,702.5V734.0M1058.7,702.5V734.0M1065.7,703.4V734.0M1071.7,705.2V734.0M1078.7,706.1V734.0M1085.7,693.9V734.0M1092.7,694.8V734.0M1099.7,694.8V734.0M1105.7,693.9V734.0M1112.7,695.7V734.0M1119.7,696.6V734.0M1126.7,699.3V734.0M1132.7,702.5V734.0M1139.7,704.3V734.0M1146.7,705.2V734.0M1153.7,706.1V734.0M1160.7,705.2V734.0M1166.7,707.0V734.0M1173.7,707.9V734.0M1180.7,709.7V734.0M1187.7,709.7V734.0M1194.7,706.1V734.0M1200.7,707.9V734.0M1207.7,707.0V734.0M1214.7,704.3V734.0M1221.7,705.2V734.0M1227.7,703.4V734.0M1234.7,704.3V734.0M1241.7,704.3V734.0M1248.7,703.4V734.0M1255.7,704.3V734.0M1261.7,698.4V734.0M1268.7,699.3V734.0M1275.7,694.8V734.0M1282.7,691.2V734.0M1289.7,691.2V734.0M1295.7,693.0V734.0M1302.7,694.8V734.0M1309.7,696.6V734.0M1316.7,697.5V734.0M1322.7,693.0V734.0M1329.7,685.6V734.0M1336.7,685.6V734.0M1343.7,680.0V734.0M1350.7,682.7V734.0M1356.7,685.6V734.0M1363.7,679.1V734.0M1370.7,680.9V734.0M1377.7,682.7V734.0M1384.7,685.6V734.0M1390.7,687.4V734.0M1397.7,687.4V734.0M1404.7,689.4V734.0M1411.7,691.2V734.0M1417.7,693.9V734.0M1424.7,694.8V734.0M1431.7,694.8V734.0M1438.7,695.7V734.0M1445.7,694.8V734.0M1451.7,694.8V734.0M1458.7,694.8V734.0M1465.7,695.7V734.0M1472.7,691.2V734.0M1479.7,690.3V734.0M1485.7,692.1V734.0M1492.7,693.9V734.0M1499.7,683.6V734.0M1506.7,680.9V734.0M1512.7,678.2V734.0M1519.7,670.8V734.0M1526.7,661.3V734.0M1533.7,661.3V734.0M1540.7,665.1V734.0" fill="none" stroke="#e23030" stroke-width="0.9"/>
<path d="M3.5,810.7h4.4V818.9h-4.4zM10.5,811.6h4.4V818.9h-4.4zM17.5,813.0h4.4V818.9h-4.4zM23.5,814.8h4.4V818.9h-4.4zM30.5,816.6h4.4V818.9h-4.4zM261,818.8h5M268.5,816.1h4.4V818.9h-4.4zM275.5,813.0h4.4V818.9h-4.4zM281.5,809.8h4.4V818.9h-4.4zM288.5,808.9h4.4V818.9h-4.4zM295.5,808.0h4.4V818.9h-4.4zM302.5,808.9h4.4V818.9h-4.4zM308.5,808.9h4.4V818.9h-4.4zM315.5,808.9h4.4V818.9h-4.4zM322.5,808.0h4.4V818.9h-4.4zM329.5,807.1h4.4V818.9h-4.4zM336.5,808.0h4.4V818.9h-4.4zM342.5,810.7h4.4V818.9h-4.4zM349.5,813.0h4.4V818.9h-4.4zM356.5,813.9h4.4V818.9h-4.4zM363.5,816.6h4.4V818.9h-4.4zM370.5,817.5h4.4V818.9h-4.4zM376,818.6h5M383,819.0h5M539,818.8h5M546.5,814.3h4.4V818.9h-4.4zM553.5,809.1h4.4V818.9h-4.4zM560.5,805.8h4.4V818.9h-4.4zM566.5,805.8h4.4V818.9h-4.4zM573.5,803.1h4.4V818.9h-4.4zM580.5,801.9h4.4V818.9h-4.4zM587.5,802.8h4.4V818.9h-4.4zM593.5,802.8h4.4V818.9h-4.4zM600.5,805.8h4.4V818.9h-4.4zM607.5,806.7h4.4V818.9h-4.4zM614.5,807.6h4.4V818.9h-4.4zM621.5,808.5h4.4V818.9h-4.4zM627.5,809.4h4.4V818.9h-4.4zM634.5,810.3h4.4V818.9h-4.4zM641.5,811.4h4.4V818.9h-4.4zM648.5,814.3h4.4V818.9h-4.4zM654.5,817.7h4.4V818.9h-4.4zM777.5,817.0h4.4V818.9h-4.4zM783.5,809.4h4.4V818.9h-4.4zM790.5,804.9h4.4V818.9h-4.4zM797.5,802.2h4.4V818.9h-4.4zM804.5,803.1h4.4V818.9h-4.4zM811.5,803.1h4.4V818.9h-4.4zM817.5,801.3h4.4V818.9h-4.4zM824.5,803.1h4.4V818.9h-4.4zM831.5,805.8h4.4V818.9h-4.4zM838.5,808.5h4.4V818.9h-4.4zM844.5,809.4h4.4V818.9h-4.4zM851.5,810.3h4.4V818.9h-4.4zM858.5,810.3h4.4V818.9h-4.4zM865.5,811.2h4.4V818.9h-4.4zM872.5,813.4h4.4V818.9h-4.4zM878.5,816.1h4.4V818.9h-4.4zM885,818.8h5M1082.5,815.2h4.4V818.9h-4.4zM1089.5,807.6h4.4V818.9h-4.4zM1096.5,802.2h4.4V818.9h-4.4zM1102.5,801.0h4.4V818.9h-4.4zM1109.5,801.0h4.4V818.9h-4.4zM1116.5,802.2h4.4V818.9h-4.4zM1123.5,803.1h4.4V818.9h-4.4zM1129.5,804.0h4.4V818.9h-4.4zM1136.5,804.9h4.4V818.9h-4.4zM1143.5,804.9h4.4V818.9h-4.4zM1150.5,805.8h4.4V818.9h-4.4zM1157.5,807.6h4.4V818.9h-4.4zM1163.5,808.5h4.4V818.9h-4.4zM1170.5,808.5h4.4V818.9h-4.4zM1177.5,810.3h4.4V818.9h-4.4zM1184.5,813.4h4.4V818.9h-4.4zM1191.5,817.9h4.4V818.9h-4.4zM1197,818.9h5M1204.5,817.0h4.4V818.9h-4.4zM1211.5,817.9h4.4V818.9h-4.4zM1218.5,815.2h4.4V818.9h-4.4zM1224.5,816.1h4.4V818.9h-4.4zM1231.5,816.1h4.4V818.9h-4.4zM1238.5,815.2h4.4V818.9h-4.4zM1245.5,817.0h4.4V818.9h-4.4zM1252,818.8h5M1421,818.8h5M1428.5,815.2h4.4V818.9h-4.4zM1435.5,811.4h4.4V818.9h-4.4zM1442.5,808.5h4.4V818.9h-4.4zM1448.5,808.5h4.4V818.9h-4.4zM1455.5,805.8h4.4V818.9h-4.4zM1462.5,805.8h4.4V818.9h-4.4zM1469.5,809.4h4.4V818.9h-4.4zM1476.5,812.3h4.4V818.9h-4.4zM1482.5,815.2h4.4V818.9h-4.4zM1489.5,817.0h4.4V818.9h-4.4z" fill="#4fd84f" stroke="#18a818" stroke-width="1.1"/>
<path d="M4.7,811.4V818.7M11.7,812.3V818.7M18.7,813.7V818.7M24.7,815.5V818.7M31.7,817.3V818.7M269.7,816.8V818.7M276.7,813.7V818.7M282.7,810.5V818.7M289.7,809.6V818.7M296.7,808.7V818.7M303.7,809.6V818.7M309.7,809.6V818.7M316.7,809.6V818.7M323.7,808.7V818.7M330.7,807.8V818.7M337.7,808.7V818.7M343.7,811.4V818.7M350.7,813.7V818.7M357.7,814.6V818.7M364.7,817.3V818.7M547.7,815.0V818.7M554.7,809.8V818.7M561.7,806.5V818.7M567.7,806.5V818.7M574.7,803.8V818.7M581.7,802.6V818.7M588.7,803.5V818.7M594.7,803.5V818.7M601.7,806.5V818.7M608.7,807.4V818.7M615.7,808.3V818.7M622.7,809.2V818.7M628.7,810.1V818.7M635.7,811.0V818.7M642.7,812.1V818.7M649.7,815.0V818.7M778.7,817.7V818.7M784.7,810.1V818.7M791.7,805.6V818.7M798.7,802.9V818.7M805.7,803.8V818.7M812.7,803.8V818.7M818.7,802.0V818.7M825.7,803.8V818.7M832.7,806.5V818.7M839.7,809.2V818.7M845.7,810.1V818.7M852.7,811.0V818.7M859.7,811.0V818.7M866.7,811.9V818.7M873.7,814.1V818.7M879.7,816.8V818.7M1083.7,815.9V818.7M1090.7,808.3V818.7M1097.7,802.9V818.7M1103.7,801.7V818.7M1110.7,801.7V818.7M1117.7,802.9V818.7M1124.7,803.8V818.7M1130.7,804.7V818.7M1137.7,805.6V818.7M1144.7,805.6V818.7M1151.7,806.5V818.7M1158.7,808.3V818.7M1164.7,809.2V818.7M1171.7,809.2V818.7M1178.7,811.0V818.7M1185.7,814.1V818.7M1205.7,817.7V818.7M1219.7,815.9V818.7M1225.7,816.8V818.7M1232.7,816.8V818.7M1239.7,815.9V818.7M1246.7,817.7V818.7M1429.7,815.9V818.7M1436.7,812.1V818.7M1443.7,809.2V818.7M1449.7,809.2V818.7M1456.7,806.5V818.7M1463.7,806.5V818.7M1470.7,810.1V818.7M1477.7,813.0V818.7M1483.7,815.9V818.7M1490.7,817.7V818.7" fill="none" stroke="#7cf67c" stroke-width="1.3"/>
<path d="M6.7,811.4V818.7M13.7,812.3V818.7M20.7,813.7V818.7M26.7,815.5V818.7M33.7,817.3V818.7M271.7,816.8V818.7M278.7,813.7V818.7M284.7,810.5V818.7M291.7,809.6V818.7M298.7,808.7V818.7M305.7,809.6V818.7M311.7,809.6V818.7M318.7,809.6V818.7M325.7,808.7V818.7M332.7,807.8V818.7M339.7,808.7V818.7M345.7,811.4V818.7M352.7,813.7V818.7M359.7,814.6V818.7M366.7,817.3V818.7M549.7,815.0V818.7M556.7,809.8V818.7M563.7,806.5V818.7M569.7,806.5V818.7M576.7,803.8V818.7M583.7,802.6V818.7M590.7,803.5V818.7M596.7,803.5V818.7M603.7,806.5V818.7M610.7,807.4V818.7M617.7,808.3V818.7M624.7,809.2V818.7M630.7,810.1V818.7M637.7,811.0V818.7M644.7,812.1V818.7M651.7,815.0V818.7M780.7,817.7V818.7M786.7,810.1V818.7M793.7,805.6V818.7M800.7,802.9V818.7M807.7,803.8V818.7M814.7,803.8V818.7M820.7,802.0V818.7M827.7,803.8V818.7M834.7,806.5V818.7M841.7,809.2V818.7M847.7,810.1V818.7M854.7,811.0V818.7M861.7,811.0V818.7M868.7,811.9V818.7M875.7,814.1V818.7M881.7,816.8V818.7M1085.7,815.9V818.7M1092.7,808.3V818.7M1099.7,802.9V818.7M1105.7,801.7V818.7M1112.7,801.7V818.7M1119.7,802.9V818.7M1126.7,803.8V818.7M1132.7,804.7V818.7M1139.7,805.6V818.7M1146.7,805.6V818.7M1153.7,806.5V818.7M1160.7,808.3V818.7M1166.7,809.2V818.7M1173.7,809.2V818.7M1180.7,811.0V818.7M1187.7,814.1V818.7M1207.7,817.7V818.7M1221.7,815.9V818.7M1227.7,816.8V818.7M1234.7,816.8V818.7M1241.7,815.9V818.7M1248.7,817.7V818.7M1431.7,815.9V818.7M1438.7,812.1V818.7M1445.7,809.2V818.7M1451.7,809.2V818.7M1458.7,806.5V818.7M1465.7,806.5V818.7M1472.7,810.1V818.7M1479.7,813.0V818.7M1485.7,815.9V818.7M1492.7,817.7V818.7" fill="none" stroke="#42c842" stroke-width="0.9"/>
<path d="M44,819.8h5M51.5,819.7h4.4V822.0h-4.4zM57.5,819.7h4.4V823.2h-4.4zM64.5,819.7h4.4V824.1h-4.4zM71.5,819.7h4.4V825.2h-4.4zM78.5,819.7h4.4V827.0h-4.4zM85.5,819.7h4.4V830.8h-4.4zM91.5,819.7h4.4V832.4h-4.4zM98.5,819.7h4.4V831.3h-4.4zM105.5,819.7h4.4V828.8h-4.4zM112.5,819.7h4.4V826.1h-4.4zM118.5,819.7h4.4V824.1h-4.4zM125.5,819.7h4.4V820.7h-4.4zM132.5,819.7h4.4V820.2h-4.4zM139.5,819.7h4.4V820.2h-4.4zM146,819.5h5M152,819.4h5M159,819.5h5M166.5,819.7h4.4V821.6h-4.4zM173.5,819.7h4.4V822.9h-4.4zM180.5,819.7h4.4V822.0h-4.4zM186.5,819.7h4.4V821.8h-4.4zM193.5,819.7h4.4V820.7h-4.4zM200.5,819.7h4.4V821.1h-4.4zM207.5,819.7h4.4V821.1h-4.4zM213.5,819.7h4.4V820.5h-4.4zM234.5,819.7h4.4V820.2h-4.4zM241.5,819.7h4.4V821.1h-4.4zM247.5,819.7h4.4V820.2h-4.4zM390,819.5h5M397.5,819.7h4.4V822.0h-4.4zM403.5,819.7h4.4V822.0h-4.4zM410.5,819.7h4.4V824.1h-4.4zM417.5,819.7h4.4V824.1h-4.4zM424.5,819.7h4.4V824.1h-4.4zM431.5,819.7h4.4V826.1h-4.4zM437.5,819.7h4.4V826.1h-4.4zM444.5,819.7h4.4V825.2h-4.4zM451.5,819.7h4.4V823.2h-4.4zM458.5,819.7h4.4V822.0h-4.4zM465.5,819.7h4.4V822.0h-4.4zM471.5,819.7h4.4V822.0h-4.4zM478.5,819.7h4.4V821.1h-4.4zM485.5,819.7h4.4V820.2h-4.4zM492.5,819.7h4.4V820.2h-4.4zM498.5,819.7h4.4V820.2h-4.4zM505.5,819.7h4.4V820.2h-4.4zM512.5,819.7h4.4V820.2h-4.4zM519.5,819.7h4.4V820.2h-4.4zM661.5,819.7h4.4V820.2h-4.4zM668.5,819.7h4.4V822.0h-4.4zM675.5,819.7h4.4V823.2h-4.4zM682.5,819.7h4.4V825.0h-4.4zM688.5,819.7h4.4V825.9h-4.4zM695.5,819.7h4.4V825.0h-4.4zM702.5,819.7h4.4V827.0h-4.4zM709.5,819.7h4.4V827.0h-4.4zM716.5,819.7h4.4V828.8h-4.4zM722.5,819.7h4.4V827.9h-4.4zM729.5,819.7h4.4V827.9h-4.4zM736.5,819.7h4.4V828.8h-4.4zM743.5,819.7h4.4V828.8h-4.4zM749.5,819.7h4.4V827.9h-4.4zM756.5,819.7h4.4V827.0h-4.4zM763.5,819.7h4.4V825.0h-4.4zM770.5,819.7h4.4V824.1h-4.4zM892.5,819.7h4.4V820.2h-4.4zM899.5,819.7h4.4V822.0h-4.4zM906.5,819.7h4.4V822.0h-4.4zM912.5,819.7h4.4V821.1h-4.4zM919,819.6h5M926.5,819.7h4.4V820.2h-4.4zM933.5,819.7h4.4V821.1h-4.4zM939.5,819.7h4.4V822.0h-4.4zM946.5,819.7h4.4V824.1h-4.4zM953.5,819.7h4.4V824.1h-4.4zM960.5,819.7h4.4V828.8h-4.4zM967.5,819.7h4.4V831.7h-4.4zM973.5,819.7h4.4V832.6h-4.4zM980.5,819.7h4.4V832.6h-4.4zM987.5,819.7h4.4V831.7h-4.4zM994.5,819.7h4.4V831.7h-4.4zM1001.5,819.7h4.4V833.5h-4.4zM1007.5,819.7h4.4V834.4h-4.4zM1014.5,819.7h4.4V835.3h-4.4zM1021.5,819.7h4.4V834.4h-4.4zM1028.5,819.7h4.4V832.6h-4.4zM1034.5,819.7h4.4V828.8h-4.4zM1041.5,819.7h4.4V827.9h-4.4zM1048.5,819.7h4.4V827.0h-4.4zM1055.5,819.7h4.4V826.1h-4.4zM1062.5,819.7h4.4V826.1h-4.4zM1068.5,819.7h4.4V825.0h-4.4zM1075.5,819.7h4.4V824.1h-4.4zM1258.5,819.7h4.4V823.2h-4.4zM1265.5,819.7h4.4V827.9h-4.4zM1272.5,819.7h4.4V832.4h-4.4zM1279.5,819.7h4.4V837.3h-4.4zM1286.5,819.7h4.4V840.3h-4.4zM1292.5,819.7h4.4V840.3h-4.4zM1299.5,819.7h4.4V837.3h-4.4zM1306.5,819.7h4.4V833.5h-4.4zM1313.5,819.7h4.4V830.6h-4.4zM1319.5,819.7h4.4V831.7h-4.4zM1326.5,819.7h4.4V834.6h-4.4zM1333.5,819.7h4.4V835.5h-4.4zM1340.5,819.7h4.4V839.1h-4.4zM1347.5,819.7h4.4V841.2h-4.4zM1353.5,819.7h4.4V840.3h-4.4zM1360.5,819.7h4.4V841.2h-4.4zM1367.5,819.7h4.4V840.3h-4.4zM1374.5,819.7h4.4V837.3h-4.4zM1381.5,819.7h4.4V834.6h-4.4zM1387.5,819.7h4.4V832.4h-4.4zM1394.5,819.7h4.4V831.7h-4.4zM1401.5,819.7h4.4V827.9h-4.4zM1408.5,819.7h4.4V824.1h-4.4zM1414,819.5h5M1496,819.5h5M1503.5,819.7h4.4V823.2h-4.4zM1509.5,819.7h4.4V827.9h-4.4zM1516.5,819.7h4.4V833.5h-4.4zM1523.5,819.7h4.4V841.2h-4.4zM1530.5,819.7h4.4V843.6h-4.4zM1537.5,819.7h4.4V844.1h-4.4z" fill="#e86a6a" stroke="#b83030" stroke-width="1.1"/>
<path d="M52.7,820.4V821.8M58.7,820.4V823.0M65.7,820.4V823.9M72.7,820.4V825.0M79.7,820.4V826.8M86.7,820.4V830.6M92.7,820.4V832.2M99.7,820.4V831.1M106.7,820.4V828.6M113.7,820.4V825.9M119.7,820.4V823.9M167.7,820.4V821.4M174.7,820.4V822.7M181.7,820.4V821.8M187.7,820.4V821.6M398.7,820.4V821.8M404.7,820.4V821.8M411.7,820.4V823.9M418.7,820.4V823.9M425.7,820.4V823.9M432.7,820.4V825.9M438.7,820.4V825.9M445.7,820.4V825.0M452.7,820.4V823.0M459.7,820.4V821.8M466.7,820.4V821.8M472.7,820.4V821.8M669.7,820.4V821.8M676.7,820.4V823.0M683.7,820.4V824.8M689.7,820.4V825.7M696.7,820.4V824.8M703.7,820.4V826.8M710.7,820.4V826.8M717.7,820.4V828.6M723.7,820.4V827.7M730.7,820.4V827.7M737.7,820.4V828.6M744.7,820.4V828.6M750.7,820.4V827.7M757.7,820.4V826.8M764.7,820.4V824.8M771.7,820.4V823.9M900.7,820.4V821.8M907.7,820.4V821.8M940.7,820.4V821.8M947.7,820.4V823.9M954.7,820.4V823.9M961.7,820.4V828.6M968.7,820.4V831.5M974.7,820.4V832.4M981.7,820.4V832.4M988.7,820.4V831.5M995.7,820.4V831.5M1002.7,820.4V833.3M1008.7,820.4V834.2M1015.7,820.4V835.1M1022.7,820.4V834.2M1029.7,820.4V832.4M1035.7,820.4V828.6M1042.7,820.4V827.7M1049.7,820.4V826.8M1056.7,820.4V825.9M1063.7,820.4V825.9M1069.7,820.4V824.8M1076.7,820.4V823.9M1259.7,820.4V823.0M1266.7,820.4V827.7M1273.7,820.4V832.2M1280.7,820.4V837.1M1287.7,820.4V840.1M1293.7,820.4V840.1M1300.7,820.4V837.1M1307.7,820.4V833.3M1314.7,820.4V830.4M1320.7,820.4V831.5M1327.7,820.4V834.4M1334.7,820.4V835.3M1341.7,820.4V838.9M1348.7,820.4V841.0M1354.7,820.4V840.1M1361.7,820.4V841.0M1368.7,820.4V840.1M1375.7,820.4V837.1M1382.7,820.4V834.4M1388.7,820.4V832.2M1395.7,820.4V831.5M1402.7,820.4V827.7M1409.7,820.4V823.9M1504.7,820.4V823.0M1510.7,820.4V827.7M1517.7,820.4V833.3M1524.7,820.4V841.0M1531.7,820.4V843.4M1538.7,820.4V843.9" fill="none" stroke="#ff8e8e" stroke-width="1.3"/>
<path d="M54.7,820.4V821.8M60.7,820.4V823.0M67.7,820.4V823.9M74.7,820.4V825.0M81.7,820.4V826.8M88.7,820.4V830.6M94.7,820.4V832.2M101.7,820.4V831.1M108.7,820.4V828.6M115.7,820.4V825.9M121.7,820.4V823.9M169.7,820.4V821.4M176.7,820.4V822.7M183.7,820.4V821.8M189.7,820.4V821.6M400.7,820.4V821.8M406.7,820.4V821.8M413.7,820.4V823.9M420.7,820.4V823.9M427.7,820.4V823.9M434.7,820.4V825.9M440.7,820.4V825.9M447.7,820.4V825.0M454.7,820.4V823.0M461.7,820.4V821.8M468.7,820.4V821.8M474.7,820.4V821.8M671.7,820.4V821.8M678.7,820.4V823.0M685.7,820.4V824.8M691.7,820.4V825.7M698.7,820.4V824.8M705.7,820.4V826.8M712.7,820.4V826.8M719.7,820.4V828.6M725.7,820.4V827.7M732.7,820.4V827.7M739.7,820.4V828.6M746.7,820.4V828.6M752.7,820.4V827.7M759.7,820.4V826.8M766.7,820.4V824.8M773.7,820.4V823.9M902.7,820.4V821.8M909.7,820.4V821.8M942.7,820.4V821.8M949.7,820.4V823.9M956.7,820.4V823.9M963.7,820.4V828.6M970.7,820.4V831.5M976.7,820.4V832.4M983.7,820.4V832.4M990.7,820.4V831.5M997.7,820.4V831.5M1004.7,820.4V833.3M1010.7,820.4V834.2M1017.7,820.4V835.1M1024.7,820.4V834.2M1031.7,820.4V832.4M1037.7,820.4V828.6M1044.7,820.4V827.7M1051.7,820.4V826.8M1058.7,820.4V825.9M1065.7,820.4V825.9M1071.7,820.4V824.8M1078.7,820.4V823.9M1261.7,820.4V823.0M1268.7,820.4V827.7M1275.7,820.4V832.2M1282.7,820.4V837.1M1289.7,820.4V840.1M1295.7,820.4V840.1M1302.7,820.4V837.1M1309.7,820.4V833.3M1316.7,820.4V830.4M1322.7,820.4V831.5M1329.7,820.4V834.4M1336.7,820.4V835.3M1343.7,820.4V838.9M1350.7,820.4V841.0M1356.7,820.4V840.1M1363.7,820.4V841.0M1370.7,820.4V840.1M1377.7,820.4V837.1M1384.7,820.4V834.4M1390.7,820.4V832.2M1397.7,820.4V831.5M1404.7,820.4V827.7M1411.7,820.4V823.9M1506.7,820.4V823.0M1512.7,820.4V827.7M1519.7,820.4V833.3M1526.7,820.4V841.0M1533.7,820.4V843.4M1540.7,820.4V843.9" fill="none" stroke="#dc5c5c" stroke-width="0.9"/>
<line x1="1" y1="819.2" x2="1732" y2="819.2" stroke="#5858e0" stroke-width="1.6"/>
<polyline points="0.0,799.0 13.5,794.9 29.2,792.7 45.0,792.7 56.2,794.9 67.5,796.3 78.7,800.1 90.0,804.6 101.2,810.2 112.5,814.7 121.5,816.5 135.0,817.4 146.2,818.8 157.5,819.7 168.7,821.0 180.0,822.6 191.2,823.7 202.5,824.4 213.7,825.1 225.0,826.0 236.2,827.1 247.5,827.8 258.7,827.6 270.0,826.4 281.2,823.7 292.5,819.2 303.7,814.7 315.0,809.8 326.2,804.6 337.5,800.6 348.7,797.4 360.0,795.6 371.2,794.9 382.5,794.9 392.6,795.6 401.2,797.2 412.5,799.4 423.7,801.7 435.0,804.6 446.2,807.5 457.5,809.1 468.7,810.7 480.0,812.0 491.2,813.2 502.5,814.3 513.7,814.7 525.0,815.2 536.2,815.9 547.5,814.7 558.7,809.1 570.0,802.4 581.2,796.3 592.5,790.0 603.7,784.4 615.0,779.2 626.2,774.7 637.5,770.4 648.7,768.2 660.0,767.0 671.2,768.6 682.5,770.9 693.7,774.2 705.0,777.2 716.2,781.0 727.5,785.0 738.7,790.0 750.0,793.8 761.2,797.2 772.5,799.7 781.5,797.9 789.0,794.5 798.0,788.9 809.2,782.8 820.5,776.5 829.5,771.5 843.0,765.9 856.5,760.3 870.0,756.2 879.0,754.4 888.0,754.0 897.0,755.6 910.5,757.4 921.7,758.0 933.0,759.2 946.5,760.7 955.5,763.0 966.7,768.2 978.0,774.2 989.2,780.5 998.2,783.7 1009.5,791.1 1016.2,794.9 1025.2,800.6 1034.2,804.2 1045.5,808.4 1056.7,811.8 1068.0,814.7 1079.2,817.0 1088.2,814.7 1095.0,810.2 1104.0,803.5 1113.0,797.2 1122.0,792.2 1131.0,786.6 1140.0,781.0 1151.2,774.2 1162.5,769.7 1173.7,765.2 1179.0,765.2 1188.0,763.0 1201.5,762.5 1215.0,761.9 1228.5,760.1 1242.0,758.5 1253.2,757.4 1262.2,758.5 1273.5,764.1 1284.7,772.0 1296.0,781.0 1309.5,789.5 1323.0,797.2 1334.2,803.5 1345.5,811.4 1356.7,821.0 1368.0,828.2 1379.2,837.2 1390.5,843.5 1401.7,847.8 1410.7,850.3 1422.0,850.7 1431.0,849.6 1440.0,846.7 1451.2,842.9 1462.5,836.1 1473.7,832.1 1485.0,830.0 1496.2,828.9 1507.5,830.5 1516.5,834.3 1525.5,841.7 1532.2,847.8 1539.4,854.6" fill="none" stroke="#e87070" stroke-width="1.1" stroke-linejoin="round"/>
<polyline points="0.0,790.7 11.2,788.4 27.0,788.4 36.0,791.8 45.0,795.6 56.2,799.7 67.5,802.4 76.5,806.9 85.5,813.6 94.5,820.4 103.5,823.7 112.5,823.7 121.5,821.0 130.5,819.7 144.0,819.2 157.5,819.7 166.5,822.6 175.5,825.5 182.2,826.7 191.2,825.5 202.5,826.4 216.0,827.6 222.7,825.5 234.0,827.1 243.0,828.9 254.2,828.9 263.2,827.1 272.2,822.6 281.2,815.9 292.5,809.1 303.7,804.6 315.0,800.1 326.2,794.0 337.5,790.7 348.7,790.7 364.5,793.8 378.0,793.8 387.0,795.2 394.8,799.0 399.0,800.1 405.7,801.7 412.5,805.3 423.7,806.9 432.7,811.4 446.2,814.7 453.0,813.6 466.5,814.7 480.0,816.5 486.7,815.4 498.0,816.5 511.5,817.4 525.0,816.5 534.0,815.9 541.9,814.3 547.5,809.1 554.2,801.2 561.0,795.6 570.0,790.0 576.7,783.7 583.5,778.7 597.0,772.0 608.2,769.3 617.2,765.7 626.2,763.9 635.2,762.5 644.2,761.2 651.0,762.5 660.0,767.5 671.2,772.4 684.7,779.2 698.2,782.1 707.2,786.6 718.5,792.2 729.7,796.7 738.7,799.7 745.5,802.8 759.0,805.1 772.5,805.1 779.2,796.7 786.0,786.6 786.7,785.5 793.5,777.6 800.2,770.4 807.0,768.2 813.7,764.8 820.5,757.8 827.2,756.2 836.2,755.1 847.5,754.0 854.2,751.3 863.2,749.9 874.5,748.4 881.2,751.3 890.2,754.0 901.5,760.3 915.0,760.3 921.7,758.5 930.7,761.2 939.7,763.9 948.7,768.2 955.5,769.7 964.5,777.6 973.5,785.5 982.5,791.1 989.2,792.9 996.0,795.6 1005.0,801.9 1014.0,809.1 1024.1,815.2 1032.0,816.3 1038.7,816.3 1043.2,818.1 1052.2,818.1 1061.2,819.7 1072.5,821.5 1079.2,821.0 1082.6,813.6 1088.2,804.6 1095.0,795.6 1104.0,786.6 1113.0,779.9 1119.7,777.2 1128.7,772.4 1140.0,767.9 1153.5,762.5 1162.5,760.1 1173.7,756.9 1179.0,755.8 1185.7,756.7 1192.5,761.2 1199.2,762.5 1206.0,760.3 1213.9,760.3 1220.6,756.7 1227.4,756.9 1235.2,755.8 1242.0,753.5 1248.7,754.7 1254.4,756.7 1260.0,761.2 1269.0,770.2 1278.0,782.1 1287.0,793.4 1294.9,801.9 1302.7,803.9 1309.5,803.9 1317.4,806.2 1325.2,811.4 1334.2,819.7 1343.2,829.4 1352.2,837.7 1361.2,845.8 1370.2,853.0 1379.2,855.2 1388.2,856.4 1397.2,859.7 1406.2,857.5 1415.2,853.0 1424.2,849.2 1433.2,841.7 1442.2,835.0 1451.2,830.5 1458.0,824.4 1464.7,821.5 1471.5,821.5 1480.5,824.2 1491.7,826.4 1500.7,831.6 1507.5,837.2 1514.2,844.4 1519.8,853.0 1525.5,864.2 1532.2,872.6 1539.4,880.0" fill="none" stroke="#4444e8" stroke-width="1.1" stroke-linejoin="round"/>
<path d="M10.5,969.4h4.4V980.3h-4.4zM51.5,973.9h4.4V980.3h-4.4zM57.5,973.0h4.4V980.3h-4.4zM98.5,972.1h4.4V980.3h-4.4zM105.5,967.6h4.4V980.3h-4.4zM112.5,971.2h4.4V980.3h-4.4zM118.5,973.0h4.4V980.3h-4.4zM125.5,973.0h4.4V980.3h-4.4zM146.5,973.0h4.4V980.3h-4.4zM180.5,971.2h4.4V980.3h-4.4zM186.5,969.4h4.4V980.3h-4.4zM207.5,971.2h4.4V980.3h-4.4zM213.5,953.7h4.4V980.3h-4.4zM220.5,968.5h4.4V980.3h-4.4zM241.5,967.6h4.4V980.3h-4.4zM247.5,972.1h4.4V980.3h-4.4zM254.5,971.2h4.4V980.3h-4.4zM261.5,974.8h4.4V980.3h-4.4zM268.5,972.1h4.4V980.3h-4.4zM275.5,974.8h4.4V980.3h-4.4zM281.5,968.5h4.4V980.3h-4.4zM302.5,963.1h4.4V980.3h-4.4zM308.5,966.7h4.4V980.3h-4.4zM315.5,970.3h4.4V980.3h-4.4zM322.5,960.0h4.4V980.3h-4.4zM329.5,974.8h4.4V980.3h-4.4zM349.5,973.0h4.4V980.3h-4.4zM356.5,973.9h4.4V980.3h-4.4zM370.5,973.0h4.4V980.3h-4.4zM403.5,971.2h4.4V980.3h-4.4zM417.5,969.4h4.4V980.3h-4.4zM437.5,964.0h4.4V980.3h-4.4zM444.5,973.9h4.4V980.3h-4.4zM451.5,973.0h4.4V980.3h-4.4zM465.5,971.2h4.4V980.3h-4.4zM485.5,973.9h4.4V980.3h-4.4zM498.5,973.0h4.4V980.3h-4.4zM512.5,968.5h4.4V980.3h-4.4zM519.5,975.9h4.4V980.3h-4.4zM526.5,975.9h4.4V980.3h-4.4zM539.5,973.0h4.4V980.3h-4.4zM546.5,963.1h4.4V980.3h-4.4zM553.5,964.0h4.4V980.3h-4.4zM560.5,972.1h4.4V980.3h-4.4zM573.5,964.0h4.4V980.3h-4.4zM580.5,935.0h4.4V980.3h-4.4zM593.5,972.1h4.4V980.3h-4.4zM607.5,969.4h4.4V980.3h-4.4zM614.5,973.0h4.4V980.3h-4.4zM621.5,958.2h4.4V980.3h-4.4zM627.5,971.2h4.4V980.3h-4.4zM634.5,973.0h4.4V980.3h-4.4zM641.5,970.3h4.4V980.3h-4.4zM661.5,972.1h4.4V980.3h-4.4zM668.5,972.1h4.4V980.3h-4.4zM675.5,973.0h4.4V980.3h-4.4zM688.5,970.3h4.4V980.3h-4.4zM695.5,974.8h4.4V980.3h-4.4zM709.5,974.8h4.4V980.3h-4.4zM722.5,966.7h4.4V980.3h-4.4zM749.5,973.0h4.4V980.3h-4.4zM756.5,971.2h4.4V980.3h-4.4zM763.5,971.2h4.4V980.3h-4.4zM777.5,934.1h4.4V980.3h-4.4zM783.5,950.1h4.4V980.3h-4.4zM790.5,963.1h4.4V980.3h-4.4zM797.5,967.6h4.4V980.3h-4.4zM811.5,967.6h4.4V980.3h-4.4zM817.5,964.9h4.4V980.3h-4.4zM838.5,967.6h4.4V980.3h-4.4zM844.5,972.1h4.4V980.3h-4.4zM851.5,964.9h4.4V980.3h-4.4zM858.5,964.0h4.4V980.3h-4.4zM865.5,967.6h4.4V980.3h-4.4zM872.5,966.7h4.4V980.3h-4.4zM885.5,969.4h4.4V980.3h-4.4zM899.5,973.0h4.4V980.3h-4.4zM906.5,966.7h4.4V980.3h-4.4zM912.5,969.4h4.4V980.3h-4.4zM919.5,965.8h4.4V980.3h-4.4zM939.5,942.6h4.4V980.3h-4.4zM953.5,970.3h4.4V980.3h-4.4zM973.5,973.9h4.4V980.3h-4.4zM980.5,973.0h4.4V980.3h-4.4zM987.5,966.7h4.4V980.3h-4.4zM1021.5,971.2h4.4V980.3h-4.4zM1028.5,972.1h4.4V980.3h-4.4zM1034.5,970.3h4.4V980.3h-4.4zM1048.5,971.2h4.4V980.3h-4.4zM1068.5,970.3h4.4V980.3h-4.4zM1082.5,926.0h4.4V980.3h-4.4zM1089.5,950.1h4.4V980.3h-4.4zM1096.5,958.4h4.4V980.3h-4.4zM1109.5,972.1h4.4V980.3h-4.4zM1123.5,956.6h4.4V980.3h-4.4zM1129.5,961.1h4.4V980.3h-4.4zM1136.5,970.3h4.4V980.3h-4.4zM1143.5,967.6h4.4V980.3h-4.4zM1150.5,970.3h4.4V980.3h-4.4zM1163.5,967.6h4.4V980.3h-4.4zM1170.5,972.1h4.4V980.3h-4.4zM1197.5,968.5h4.4V980.3h-4.4zM1204.5,966.7h4.4V980.3h-4.4zM1218.5,969.4h4.4V980.3h-4.4zM1231.5,972.1h4.4V980.3h-4.4zM1238.5,967.6h4.4V980.3h-4.4zM1286.5,968.5h4.4V980.3h-4.4zM1292.5,972.1h4.4V980.3h-4.4zM1299.5,971.2h4.4V980.3h-4.4zM1306.5,972.1h4.4V980.3h-4.4zM1353.5,970.3h4.4V980.3h-4.4zM1374.5,973.0h4.4V980.3h-4.4zM1381.5,973.0h4.4V980.3h-4.4zM1401.5,967.6h4.4V980.3h-4.4zM1408.5,971.2h4.4V980.3h-4.4zM1414.5,969.4h4.4V980.3h-4.4zM1428.5,940.6h4.4V980.3h-4.4zM1435.5,968.5h4.4V980.3h-4.4zM1442.5,966.7h4.4V980.3h-4.4zM1455.5,970.3h4.4V980.3h-4.4zM1489.5,972.1h4.4V980.3h-4.4zM1530.5,967.6h4.4V980.3h-4.4zM1537,980.3h5" fill="#4fd84f" stroke="#18a818" stroke-width="1.1"/>
<path d="M11.7,970.1V980.1M52.7,974.6V980.1M58.7,973.7V980.1M99.7,972.8V980.1M106.7,968.3V980.1M113.7,971.9V980.1M119.7,973.7V980.1M126.7,973.7V980.1M147.7,973.7V980.1M181.7,971.9V980.1M187.7,970.1V980.1M208.7,971.9V980.1M214.7,954.4V980.1M221.7,969.2V980.1M242.7,968.3V980.1M248.7,972.8V980.1M255.7,971.9V980.1M262.7,975.5V980.1M269.7,972.8V980.1M276.7,975.5V980.1M282.7,969.2V980.1M303.7,963.8V980.1M309.7,967.4V980.1M316.7,971.0V980.1M323.7,960.7V980.1M330.7,975.5V980.1M350.7,973.7V980.1M357.7,974.6V980.1M371.7,973.7V980.1M404.7,971.9V980.1M418.7,970.1V980.1M438.7,964.7V980.1M445.7,974.6V980.1M452.7,973.7V980.1M466.7,971.9V980.1M486.7,974.6V980.1M499.7,973.7V980.1M513.7,969.2V980.1M520.7,976.6V980.1M527.7,976.6V980.1M540.7,973.7V980.1M547.7,963.8V980.1M554.7,964.7V980.1M561.7,972.8V980.1M574.7,964.7V980.1M581.7,935.7V980.1M594.7,972.8V980.1M608.7,970.1V980.1M615.7,973.7V980.1M622.7,958.9V980.1M628.7,971.9V980.1M635.7,973.7V980.1M642.7,971.0V980.1M662.7,972.8V980.1M669.7,972.8V980.1M676.7,973.7V980.1M689.7,971.0V980.1M696.7,975.5V980.1M710.7,975.5V980.1M723.7,967.4V980.1M750.7,973.7V980.1M757.7,971.9V980.1M764.7,971.9V980.1M778.7,934.8V980.1M784.7,950.8V980.1M791.7,963.8V980.1M798.7,968.3V980.1M812.7,968.3V980.1M818.7,965.6V980.1M839.7,968.3V980.1M845.7,972.8V980.1M852.7,965.6V980.1M859.7,964.7V980.1M866.7,968.3V980.1M873.7,967.4V980.1M886.7,970.1V980.1M900.7,973.7V980.1M907.7,967.4V980.1M913.7,970.1V980.1M920.7,966.5V980.1M940.7,943.3V980.1M954.7,971.0V980.1M974.7,974.6V980.1M981.7,973.7V980.1M988.7,967.4V980.1M1022.7,971.9V980.1M1029.7,972.8V980.1M1035.7,971.0V980.1M1049.7,971.9V980.1M1069.7,971.0V980.1M1083.7,926.7V980.1M1090.7,950.8V980.1M1097.7,959.1V980.1M1110.7,972.8V980.1M1124.7,957.3V980.1M1130.7,961.8V980.1M1137.7,971.0V980.1M1144.7,968.3V980.1M1151.7,971.0V980.1M1164.7,968.3V980.1M1171.7,972.8V980.1M1198.7,969.2V980.1M1205.7,967.4V980.1M1219.7,970.1V980.1M1232.7,972.8V980.1M1239.7,968.3V980.1M1287.7,969.2V980.1M1293.7,972.8V980.1M1300.7,971.9V980.1M1307.7,972.8V980.1M1354.7,971.0V980.1M1375.7,973.7V980.1M1382.7,973.7V980.1M1402.7,968.3V980.1M1409.7,971.9V980.1M1415.7,970.1V980.1M1429.7,941.3V980.1M1436.7,969.2V980.1M1443.7,967.4V980.1M1456.7,971.0V980.1M1490.7,972.8V980.1M1531.7,968.3V980.1" fill="none" stroke="#7cf67c" stroke-width="1.3"/>
<path d="M13.7,970.1V980.1M54.7,974.6V980.1M60.7,973.7V980.1M101.7,972.8V980.1M108.7,968.3V980.1M115.7,971.9V980.1M121.7,973.7V980.1M128.7,973.7V980.1M149.7,973.7V980.1M183.7,971.9V980.1M189.7,970.1V980.1M210.7,971.9V980.1M216.7,954.4V980.1M223.7,969.2V980.1M244.7,968.3V980.1M250.7,972.8V980.1M257.7,971.9V980.1M264.7,975.5V980.1M271.7,972.8V980.1M278.7,975.5V980.1M284.7,969.2V980.1M305.7,963.8V980.1M311.7,967.4V980.1M318.7,971.0V980.1M325.7,960.7V980.1M332.7,975.5V980.1M352.7,973.7V980.1M359.7,974.6V980.1M373.7,973.7V980.1M406.7,971.9V980.1M420.7,970.1V980.1M440.7,964.7V980.1M447.7,974.6V980.1M454.7,973.7V980.1M468.7,971.9V980.1M488.7,974.6V980.1M501.7,973.7V980.1M515.7,969.2V980.1M522.7,976.6V980.1M529.7,976.6V980.1M542.7,973.7V980.1M549.7,963.8V980.1M556.7,964.7V980.1M563.7,972.8V980.1M576.7,964.7V980.1M583.7,935.7V980.1M596.7,972.8V980.1M610.7,970.1V980.1M617.7,973.7V980.1M624.7,958.9V980.1M630.7,971.9V980.1M637.7,973.7V980.1M644.7,971.0V980.1M664.7,972.8V980.1M671.7,972.8V980.1M678.7,973.7V980.1M691.7,971.0V980.1M698.7,975.5V980.1M712.7,975.5V980.1M725.7,967.4V980.1M752.7,973.7V980.1M759.7,971.9V980.1M766.7,971.9V980.1M780.7,934.8V980.1M786.7,950.8V980.1M793.7,963.8V980.1M800.7,968.3V980.1M814.7,968.3V980.1M820.7,965.6V980.1M841.7,968.3V980.1M847.7,972.8V980.1M854.7,965.6V980.1M861.7,964.7V980.1M868.7,968.3V980.1M875.7,967.4V980.1M888.7,970.1V980.1M902.7,973.7V980.1M909.7,967.4V980.1M915.7,970.1V980.1M922.7,966.5V980.1M942.7,943.3V980.1M956.7,971.0V980.1M976.7,974.6V980.1M983.7,973.7V980.1M990.7,967.4V980.1M1024.7,971.9V980.1M1031.7,972.8V980.1M1037.7,971.0V980.1M1051.7,971.9V980.1M1071.7,971.0V980.1M1085.7,926.7V980.1M1092.7,950.8V980.1M1099.7,959.1V980.1M1112.7,972.8V980.1M1126.7,957.3V980.1M1132.7,961.8V980.1M1139.7,971.0V980.1M1146.7,968.3V980.1M1153.7,971.0V980.1M1166.7,968.3V980.1M1173.7,972.8V980.1M1200.7,969.2V980.1M1207.7,967.4V980.1M1221.7,970.1V980.1M1234.7,972.8V980.1M1241.7,968.3V980.1M1289.7,969.2V980.1M1295.7,972.8V980.1M1302.7,971.9V980.1M1309.7,972.8V980.1M1356.7,971.0V980.1M1377.7,973.7V980.1M1384.7,973.7V980.1M1404.7,968.3V980.1M1411.7,971.9V980.1M1417.7,970.1V980.1M1431.7,941.3V980.1M1438.7,969.2V980.1M1445.7,967.4V980.1M1458.7,971.0V980.1M1492.7,972.8V980.1M1533.7,968.3V980.1" fill="none" stroke="#42c842" stroke-width="0.9"/>
<path d="M3.5,964.9h4.4V980.3h-4.4zM17.5,969.4h4.4V980.3h-4.4zM23.5,966.7h4.4V980.3h-4.4zM30.5,972.1h4.4V980.3h-4.4zM37.5,972.1h4.4V980.3h-4.4zM44.5,968.5h4.4V980.3h-4.4zM64.5,973.0h4.4V980.3h-4.4zM71.5,970.3h4.4V980.3h-4.4zM78.5,970.3h4.4V980.3h-4.4zM85.5,967.6h4.4V980.3h-4.4zM91.5,964.0h4.4V980.3h-4.4zM132.5,971.2h4.4V980.3h-4.4zM139.5,974.8h4.4V980.3h-4.4zM152.5,896.1h4.4V980.3h-4.4zM159.5,970.3h4.4V980.3h-4.4zM166.5,967.6h4.4V980.3h-4.4zM173.5,972.1h4.4V980.3h-4.4zM193.5,973.9h4.4V980.3h-4.4zM200.5,970.3h4.4V980.3h-4.4zM227.5,967.6h4.4V980.3h-4.4zM234.5,964.0h4.4V980.3h-4.4zM288.5,972.1h4.4V980.3h-4.4zM295.5,968.5h4.4V980.3h-4.4zM336.5,970.3h4.4V980.3h-4.4zM342.5,973.9h4.4V980.3h-4.4zM363.5,960.9h4.4V980.3h-4.4zM376.5,967.6h4.4V980.3h-4.4zM383.5,973.0h4.4V980.3h-4.4zM390.5,970.3h4.4V980.3h-4.4zM397.5,973.0h4.4V980.3h-4.4zM410.5,973.9h4.4V980.3h-4.4zM424.5,973.9h4.4V980.3h-4.4zM431.5,953.7h4.4V980.3h-4.4zM458.5,972.1h4.4V980.3h-4.4zM471.5,977.1h4.4V980.3h-4.4zM478.5,974.8h4.4V980.3h-4.4zM492.5,973.9h4.4V980.3h-4.4zM505.5,971.2h4.4V980.3h-4.4zM532.5,974.8h4.4V980.3h-4.4zM566.5,972.1h4.4V980.3h-4.4zM587.5,973.0h4.4V980.3h-4.4zM600.5,969.4h4.4V980.3h-4.4zM648.5,969.4h4.4V980.3h-4.4zM654.5,964.9h4.4V980.3h-4.4zM682.5,970.3h4.4V980.3h-4.4zM702.5,971.2h4.4V980.3h-4.4zM716.5,971.2h4.4V980.3h-4.4zM729.5,973.0h4.4V980.3h-4.4zM736.5,973.9h4.4V980.3h-4.4zM743.5,971.2h4.4V980.3h-4.4zM770.5,963.1h4.4V980.3h-4.4zM804.5,957.5h4.4V980.3h-4.4zM824.5,968.5h4.4V980.3h-4.4zM831.5,971.2h4.4V980.3h-4.4zM878.5,972.1h4.4V980.3h-4.4zM892.5,972.1h4.4V980.3h-4.4zM926.5,969.4h4.4V980.3h-4.4zM933.5,973.0h4.4V980.3h-4.4zM946.5,972.1h4.4V980.3h-4.4zM960.5,961.1h4.4V980.3h-4.4zM967.5,965.8h4.4V980.3h-4.4zM994.5,968.5h4.4V980.3h-4.4zM1001.5,969.4h4.4V980.3h-4.4zM1007.5,970.3h4.4V980.3h-4.4zM1014.5,971.2h4.4V980.3h-4.4zM1041.5,969.4h4.4V980.3h-4.4zM1055.5,970.3h4.4V980.3h-4.4zM1062.5,971.2h4.4V980.3h-4.4zM1075.5,970.3h4.4V980.3h-4.4zM1102.5,971.2h4.4V980.3h-4.4zM1116.5,969.4h4.4V980.3h-4.4zM1157.5,956.6h4.4V980.3h-4.4zM1177.5,974.8h4.4V980.3h-4.4zM1184.5,973.9h4.4V980.3h-4.4zM1191.5,970.3h4.4V980.3h-4.4zM1211.5,937.0h4.4V980.3h-4.4zM1224.5,970.3h4.4V980.3h-4.4zM1245.5,970.3h4.4V980.3h-4.4zM1252.5,973.9h4.4V980.3h-4.4zM1258.5,970.3h4.4V980.3h-4.4zM1265.5,973.0h4.4V980.3h-4.4zM1272.5,962.0h4.4V980.3h-4.4zM1279.5,964.9h4.4V980.3h-4.4zM1313.5,958.4h4.4V980.3h-4.4zM1319.5,944.4h4.4V980.3h-4.4zM1326.5,959.3h4.4V980.3h-4.4zM1333.5,972.1h4.4V980.3h-4.4zM1340.5,967.6h4.4V980.3h-4.4zM1347.5,968.5h4.4V980.3h-4.4zM1360.5,918.6h4.4V980.3h-4.4zM1367.5,964.9h4.4V980.3h-4.4zM1387.5,966.7h4.4V980.3h-4.4zM1394.5,967.6h4.4V980.3h-4.4zM1421.5,971.2h4.4V980.3h-4.4zM1448.5,968.5h4.4V980.3h-4.4zM1462.5,964.9h4.4V980.3h-4.4zM1469.5,969.4h4.4V980.3h-4.4zM1476.5,972.1h4.4V980.3h-4.4zM1482.5,973.0h4.4V980.3h-4.4zM1496.5,962.0h4.4V980.3h-4.4zM1503.5,962.0h4.4V980.3h-4.4zM1509.5,969.4h4.4V980.3h-4.4zM1516.5,957.5h4.4V980.3h-4.4zM1523.5,957.5h4.4V980.3h-4.4z" fill="#e86a6a" stroke="#b83030" stroke-width="1.1"/>
<path d="M4.7,965.6V980.1M18.7,970.1V980.1M24.7,967.4V980.1M31.7,972.8V980.1M38.7,972.8V980.1M45.7,969.2V980.1M65.7,973.7V980.1M72.7,971.0V980.1M79.7,971.0V980.1M86.7,968.3V980.1M92.7,964.7V980.1M133.7,971.9V980.1M140.7,975.5V980.1M153.7,896.8V980.1M160.7,971.0V980.1M167.7,968.3V980.1M174.7,972.8V980.1M194.7,974.6V980.1M201.7,971.0V980.1M228.7,968.3V980.1M235.7,964.7V980.1M289.7,972.8V980.1M296.7,969.2V980.1M337.7,971.0V980.1M343.7,974.6V980.1M364.7,961.6V980.1M377.7,968.3V980.1M384.7,973.7V980.1M391.7,971.0V980.1M398.7,973.7V980.1M411.7,974.6V980.1M425.7,974.6V980.1M432.7,954.4V980.1M459.7,972.8V980.1M472.7,977.8V980.1M479.7,975.5V980.1M493.7,974.6V980.1M506.7,971.9V980.1M533.7,975.5V980.1M567.7,972.8V980.1M588.7,973.7V980.1M601.7,970.1V980.1M649.7,970.1V980.1M655.7,965.6V980.1M683.7,971.0V980.1M703.7,971.9V980.1M717.7,971.9V980.1M730.7,973.7V980.1M737.7,974.6V980.1M744.7,971.9V980.1M771.7,963.8V980.1M805.7,958.2V980.1M825.7,969.2V980.1M832.7,971.9V980.1M879.7,972.8V980.1M893.7,972.8V980.1M927.7,970.1V980.1M934.7,973.7V980.1M947.7,972.8V980.1M961.7,961.8V980.1M968.7,966.5V980.1M995.7,969.2V980.1M1002.7,970.1V980.1M1008.7,971.0V980.1M1015.7,971.9V980.1M1042.7,970.1V980.1M1056.7,971.0V980.1M1063.7,971.9V980.1M1076.7,971.0V980.1M1103.7,971.9V980.1M1117.7,970.1V980.1M1158.7,957.3V980.1M1178.7,975.5V980.1M1185.7,974.6V980.1M1192.7,971.0V980.1M1212.7,937.7V980.1M1225.7,971.0V980.1M1246.7,971.0V980.1M1253.7,974.6V980.1M1259.7,971.0V980.1M1266.7,973.7V980.1M1273.7,962.7V980.1M1280.7,965.6V980.1M1314.7,959.1V980.1M1320.7,945.1V980.1M1327.7,960.0V980.1M1334.7,972.8V980.1M1341.7,968.3V980.1M1348.7,969.2V980.1M1361.7,919.3V980.1M1368.7,965.6V980.1M1388.7,967.4V980.1M1395.7,968.3V980.1M1422.7,971.9V980.1M1449.7,969.2V980.1M1463.7,965.6V980.1M1470.7,970.1V980.1M1477.7,972.8V980.1M1483.7,973.7V980.1M1497.7,962.7V980.1M1504.7,962.7V980.1M1510.7,970.1V980.1M1517.7,958.2V980.1M1524.7,958.2V980.1" fill="none" stroke="#ff8e8e" stroke-width="1.3"/>
<path d="M6.7,965.6V980.1M20.7,970.1V980.1M26.7,967.4V980.1M33.7,972.8V980.1M40.7,972.8V980.1M47.7,969.2V980.1M67.7,973.7V980.1M74.7,971.0V980.1M81.7,971.0V980.1M88.7,968.3V980.1M94.7,964.7V980.1M135.7,971.9V980.1M142.7,975.5V980.1M155.7,896.8V980.1M162.7,971.0V980.1M169.7,968.3V980.1M176.7,972.8V980.1M196.7,974.6V980.1M203.7,971.0V980.1M230.7,968.3V980.1M237.7,964.7V980.1M291.7,972.8V980.1M298.7,969.2V980.1M339.7,971.0V980.1M345.7,974.6V980.1M366.7,961.6V980.1M379.7,968.3V980.1M386.7,973.7V980.1M393.7,971.0V980.1M400.7,973.7V980.1M413.7,974.6V980.1M427.7,974.6V980.1M434.7,954.4V980.1M461.7,972.8V980.1M474.7,977.8V980.1M481.7,975.5V980.1M495.7,974.6V980.1M508.7,971.9V980.1M535.7,975.5V980.1M569.7,972.8V980.1M590.7,973.7V980.1M603.7,970.1V980.1M651.7,970.1V980.1M657.7,965.6V980.1M685.7,971.0V980.1M705.7,971.9V980.1M719.7,971.9V980.1M732.7,973.7V980.1M739.7,974.6V980.1M746.7,971.9V980.1M773.7,963.8V980.1M807.7,958.2V980.1M827.7,969.2V980.1M834.7,971.9V980.1M881.7,972.8V980.1M895.7,972.8V980.1M929.7,970.1V980.1M936.7,973.7V980.1M949.7,972.8V980.1M963.7,961.8V980.1M970.7,966.5V980.1M997.7,969.2V980.1M1004.7,970.1V980.1M1010.7,971.0V980.1M1017.7,971.9V980.1M1044.7,970.1V980.1M1058.7,971.0V980.1M1065.7,971.9V980.1M1078.7,971.0V980.1M1105.7,971.9V980.1M1119.7,970.1V980.1M1160.7,957.3V980.1M1180.7,975.5V980.1M1187.7,974.6V980.1M1194.7,971.0V980.1M1214.7,937.7V980.1M1227.7,971.0V980.1M1248.7,971.0V980.1M1255.7,974.6V980.1M1261.7,971.0V980.1M1268.7,973.7V980.1M1275.7,962.7V980.1M1282.7,965.6V980.1M1316.7,959.1V980.1M1322.7,945.1V980.1M1329.7,960.0V980.1M1336.7,972.8V980.1M1343.7,968.3V980.1M1350.7,969.2V980.1M1363.7,919.3V980.1M1370.7,965.6V980.1M1390.7,967.4V980.1M1397.7,968.3V980.1M1424.7,971.9V980.1M1451.7,969.2V980.1M1465.7,965.6V980.1M1472.7,970.1V980.1M1479.7,972.8V980.1M1485.7,973.7V980.1M1499.7,962.7V980.1M1506.7,962.7V980.1M1512.7,970.1V980.1M1519.7,958.2V980.1M1526.7,958.2V980.1" fill="none" stroke="#dc5c5c" stroke-width="0.9"/>
<line x1="1733" y1="642.5" x2="1736.5" y2="642.5" stroke="#7f93a0" stroke-width="1"/>
<text x="1738" y="646.2" font-size="11" fill="#7a7a7a" letter-spacing="-0.35">11</text>
<line x1="1733" y1="575.5" x2="1736.5" y2="575.5" stroke="#7f93a0" stroke-width="1"/>
<text x="1738" y="578.8" font-size="11" fill="#7a7a7a" letter-spacing="-0.35">12</text>
<line x1="1733" y1="513.5" x2="1736.5" y2="513.5" stroke="#7f93a0" stroke-width="1"/>
<text x="1738" y="516.9" font-size="11" fill="#7a7a7a" letter-spacing="-0.35">13</text>
<line x1="1733" y1="455.5" x2="1736.5" y2="455.5" stroke="#7f93a0" stroke-width="1"/>
<text x="1738" y="459.5" font-size="11" fill="#7a7a7a" letter-spacing="-0.35">14</text>
<line x1="1733" y1="402.5" x2="1736.5" y2="402.5" stroke="#7f93a0" stroke-width="1"/>
<text x="1738" y="406.1" font-size="11" fill="#7a7a7a" letter-spacing="-0.35">15</text>
<line x1="1733" y1="352.5" x2="1736.5" y2="352.5" stroke="#7f93a0" stroke-width="1"/>
<text x="1738" y="356.1" font-size="11" fill="#7a7a7a" letter-spacing="-0.35">16</text>
<line x1="1733" y1="261.5" x2="1736.5" y2="261.5" stroke="#7f93a0" stroke-width="1"/>
<text x="1738" y="264.9" font-size="11" fill="#7a7a7a" letter-spacing="-0.35">18</text>
<line x1="1733" y1="219.5" x2="1736.5" y2="219.5" stroke="#7f93a0" stroke-width="1"/>
<text x="1738" y="223.1" font-size="11" fill="#7a7a7a" letter-spacing="-0.35">19</text>
<line x1="1733" y1="179.5" x2="1736.5" y2="179.5" stroke="#7f93a0" stroke-width="1"/>
<text x="1738" y="183.4" font-size="11" fill="#7a7a7a" letter-spacing="-0.35" font-weight="bold">20</text>
<line x1="1733" y1="141.5" x2="1736.5" y2="141.5" stroke="#7f93a0" stroke-width="1"/>
<text x="1738" y="145.6" font-size="11" fill="#7a7a7a" letter-spacing="-0.35">21</text>
<line x1="1733" y1="105.5" x2="1736.5" y2="105.5" stroke="#7f93a0" stroke-width="1"/>
<text x="1738" y="109.6" font-size="11" fill="#7a7a7a" letter-spacing="-0.35">22</text>
<line x1="1733" y1="71.5" x2="1736.5" y2="71.5" stroke="#7f93a0" stroke-width="1"/>
<text x="1738" y="75.1" font-size="11" fill="#7a7a7a" letter-spacing="-0.35">23</text>
<line x1="1733" y1="38.5" x2="1736.5" y2="38.5" stroke="#7f93a0" stroke-width="1"/>
<text x="1738" y="42.2" font-size="11" fill="#7a7a7a" letter-spacing="-0.35">24</text>
<line x1="1733" y1="678.5" x2="1736.5" y2="678.5" stroke="#7f93a0" stroke-width="1"/>
<text x="1738" y="682.3" font-size="11" fill="#7a7a7a" letter-spacing="-0.35">2,5</text>
<line x1="1733" y1="702.5" x2="1736.5" y2="702.5" stroke="#7f93a0" stroke-width="1"/>
<text x="1738" y="705.9" font-size="11" fill="#7a7a7a" letter-spacing="-0.35">2</text>
<line x1="1733" y1="725.5" x2="1736.5" y2="725.5" stroke="#7f93a0" stroke-width="1"/>
<text x="1738" y="728.7" font-size="11" fill="#7a7a7a" letter-spacing="-0.35">1,5</text>
<line x1="1733" y1="690.5" x2="1735" y2="690.5" stroke="#7f93a0" stroke-width="1"/>
<line x1="1733" y1="714.5" x2="1735" y2="714.5" stroke="#7f93a0" stroke-width="1"/>
<text x="1738" y="746.5" font-size="11" fill="#7a7a7a" letter-spacing="-0.35">0,8</text>
<line x1="1733" y1="758.5" x2="1736.5" y2="758.5" stroke="#7f93a0" stroke-width="1"/>
<text x="1738" y="761.5" font-size="11" fill="#7a7a7a" letter-spacing="-0.35">0,6</text>
<line x1="1733" y1="778.5" x2="1736.5" y2="778.5" stroke="#7f93a0" stroke-width="1"/>
<text x="1738" y="781.5" font-size="11" fill="#7a7a7a" letter-spacing="-0.35">0,4</text>
<line x1="1733" y1="798.5" x2="1736.5" y2="798.5" stroke="#7f93a0" stroke-width="1"/>
<text x="1738" y="802.3" font-size="11" fill="#7a7a7a" letter-spacing="-0.35">0,2</text>
<line x1="1733" y1="819.5" x2="1736.5" y2="819.5" stroke="#7f93a0" stroke-width="1"/>
<text x="1738" y="823.1" font-size="11" fill="#7a7a7a" letter-spacing="-0.35" font-weight="bold">0</text>
<line x1="1733" y1="738.5" x2="1735" y2="738.5" stroke="#7f93a0" stroke-width="1"/>
<line x1="1733" y1="748.5" x2="1735" y2="748.5" stroke="#7f93a0" stroke-width="1"/>
<line x1="1733" y1="768.5" x2="1735" y2="768.5" stroke="#7f93a0" stroke-width="1"/>
<line x1="1733" y1="788.5" x2="1735" y2="788.5" stroke="#7f93a0" stroke-width="1"/>
<line x1="1733" y1="808.5" x2="1735" y2="808.5" stroke="#7f93a0" stroke-width="1"/>
<line x1="1733" y1="830.5" x2="1735" y2="830.5" stroke="#7f93a0" stroke-width="1"/>
<line x1="1733" y1="850.5" x2="1735" y2="850.5" stroke="#7f93a0" stroke-width="1"/>
<line x1="1733" y1="870.5" x2="1735" y2="870.5" stroke="#7f93a0" stroke-width="1"/>
<line x1="1733" y1="895.5" x2="1736.5" y2="895.5" stroke="#7f93a0" stroke-width="1"/>
<text x="1738" y="898.9" font-size="11" fill="#7a7a7a" letter-spacing="-0.35" textLength="28.8" lengthAdjust="spacingAndGlyphs">3.000k</text>
<line x1="1733" y1="922.5" x2="1736.5" y2="922.5" stroke="#7f93a0" stroke-width="1"/>
<text x="1738" y="926.4" font-size="11" fill="#7a7a7a" letter-spacing="-0.35" textLength="28.8" lengthAdjust="spacingAndGlyphs">2.000k</text>
<line x1="1733" y1="952.5" x2="1736.5" y2="952.5" stroke="#7f93a0" stroke-width="1"/>
<text x="1738" y="955.4" font-size="11" fill="#7a7a7a" letter-spacing="-0.35" textLength="28.8" lengthAdjust="spacingAndGlyphs">1.000k</text>
<line x1="1733" y1="302.5" x2="1737" y2="302.5" stroke="#f03030" stroke-width="1.5"/>
<rect x="1736.5" y="289.5" width="34" height="14.5" rx="1.5" fill="#f6f6f6" stroke="#a3b0ba" stroke-width="1"/>
<text x="1753.5" y="300.4" font-size="10.5" text-anchor="middle" fill="#f02020" letter-spacing="-0.2">17,050</text>
<rect x="1736.5" y="305.5" width="29" height="14" rx="1.5" fill="#f5c400" stroke="#d8a800" stroke-width="1"/>
<text x="1751.0" y="316.2" font-size="10.5" text-anchor="middle" fill="#000" letter-spacing="-0.2" font-weight="bold">16,97</text>
<line x1="1733" y1="664.5" x2="1737" y2="664.5" stroke="#f03030" stroke-width="1.5"/>
<rect x="1736.5" y="657.0" width="34" height="14.5" rx="1.5" fill="#f6f6f6" stroke="#a3b0ba" stroke-width="1"/>
<text x="1753.5" y="668.0" font-size="10.5" text-anchor="middle" fill="#e02020" letter-spacing="-0.2">2,8034</text>
<line x1="1733" y1="843.5" x2="1737" y2="843.5" stroke="#e87070" stroke-width="1.2"/>
<rect x="1736.5" y="835.0" width="38" height="15" rx="1.5" fill="#f6f6f6" stroke="#a3b0ba" stroke-width="1"/>
<text x="1755.5" y="846.2" font-size="10.5" text-anchor="middle" fill="#e05050" letter-spacing="-0.2">-0,2493</text>
<line x1="1733" y1="855.5" x2="1737" y2="855.5" stroke="#e87070" stroke-width="1.2"/>
<rect x="1736.5" y="850.5" width="38" height="14.3" rx="1.5" fill="#f6f6f6" stroke="#a3b0ba" stroke-width="1"/>
<text x="1755.5" y="861.4" font-size="10.5" text-anchor="middle" fill="#e05050" letter-spacing="-0.2">-0,3551</text>
<line x1="1733" y1="880.5" x2="1737" y2="880.5" stroke="#2020d0" stroke-width="2"/>
<rect x="1736.5" y="871.0" width="38" height="15" rx="1.5" fill="#f6f6f6" stroke="#a3b0ba" stroke-width="1"/>
<text x="1755.5" y="882.2" font-size="10.5" text-anchor="middle" fill="#2020d0" letter-spacing="-0.2">-0,6043</text>
<line x1="1733" y1="980" x2="1737" y2="980" stroke="#40d040" stroke-width="1.5"/>
<rect x="1736.5" y="966.5" width="34" height="14" rx="1.5" fill="#f6f6f6" stroke="#a3b0ba" stroke-width="1"/>
<text x="1753.5" y="977.2" font-size="10.5" text-anchor="middle" fill="#3cc83c" letter-spacing="-0.2">34.032</text>
<line x1="12.5" y1="981" x2="12.5" y2="984.5" stroke="#7f93a0" stroke-width="1"/>
<text x="11.0" y="995.3" font-size="11" text-anchor="middle" fill="#858585" letter-spacing="-0.3">19</text>
<line x1="46.5" y1="981" x2="46.5" y2="984.5" stroke="#7f93a0" stroke-width="1"/>
<text x="45.0" y="995.3" font-size="11" text-anchor="middle" fill="#858585" letter-spacing="-0.3">26</text>
<line x1="73.5" y1="981" x2="73.5" y2="984.5" stroke="#7f93a0" stroke-width="1"/>
<text x="72.0" y="995.3" font-size="11" text-anchor="middle" fill="#858585" letter-spacing="-0.3" font-weight="bold">oct</text>
<line x1="114.5" y1="981" x2="114.5" y2="984.5" stroke="#7f93a0" stroke-width="1"/>
<text x="113.0" y="995.3" font-size="11" text-anchor="middle" fill="#858585" letter-spacing="-0.3">10</text>
<line x1="148.5" y1="981" x2="148.5" y2="984.5" stroke="#7f93a0" stroke-width="1"/>
<text x="147.0" y="995.3" font-size="11" text-anchor="middle" fill="#858585" letter-spacing="-0.3">17</text>
<line x1="182.5" y1="981" x2="182.5" y2="984.5" stroke="#7f93a0" stroke-width="1"/>
<text x="181.0" y="995.3" font-size="11" text-anchor="middle" fill="#858585" letter-spacing="-0.3">24</text>
<line x1="222.5" y1="981" x2="222.5" y2="984.5" stroke="#7f93a0" stroke-width="1"/>
<text x="219.5" y="995.3" font-size="11" text-anchor="middle" fill="#858585" letter-spacing="-0.3" font-weight="bold">nov</text>
<line x1="249.5" y1="981" x2="249.5" y2="984.5" stroke="#7f93a0" stroke-width="1"/>
<text x="248.0" y="995.3" font-size="11" text-anchor="middle" fill="#858585" letter-spacing="-0.3">07</text>
<line x1="283.5" y1="981" x2="283.5" y2="984.5" stroke="#7f93a0" stroke-width="1"/>
<text x="282.0" y="995.3" font-size="11" text-anchor="middle" fill="#858585" letter-spacing="-0.3">14</text>
<line x1="317.5" y1="981" x2="317.5" y2="984.5" stroke="#7f93a0" stroke-width="1"/>
<text x="316.0" y="995.3" font-size="11" text-anchor="middle" fill="#858585" letter-spacing="-0.3">21</text>
<line x1="351.5" y1="981" x2="351.5" y2="984.5" stroke="#7f93a0" stroke-width="1"/>
<text x="350.0" y="995.3" font-size="11" text-anchor="middle" fill="#858585" letter-spacing="-0.3">28</text>
<line x1="372.5" y1="981" x2="372.5" y2="984.5" stroke="#7f93a0" stroke-width="1"/>
<text x="371.0" y="995.3" font-size="11" text-anchor="middle" fill="#858585" letter-spacing="-0.3" font-weight="bold">dic</text>
<line x1="419.5" y1="981" x2="419.5" y2="984.5" stroke="#7f93a0" stroke-width="1"/>
<text x="418.0" y="995.3" font-size="11" text-anchor="middle" fill="#858585" letter-spacing="-0.3">12</text>
<line x1="453.5" y1="981" x2="453.5" y2="984.5" stroke="#7f93a0" stroke-width="1"/>
<text x="452.0" y="995.3" font-size="11" text-anchor="middle" fill="#858585" letter-spacing="-0.3">19</text>
<line x1="500.5" y1="981" x2="500.5" y2="984.5" stroke="#7f93a0" stroke-width="1"/>
<text x="499.0" y="995.3" font-size="11" text-anchor="middle" fill="#858585" letter-spacing="-0.3" font-weight="bold">2024</text>
<line x1="555.5" y1="981" x2="555.5" y2="984.5" stroke="#7f93a0" stroke-width="1"/>
<text x="554.0" y="995.3" font-size="11" text-anchor="middle" fill="#858585" letter-spacing="-0.3">12</text>
<line x1="589.5" y1="981" x2="589.5" y2="984.5" stroke="#7f93a0" stroke-width="1"/>
<text x="588.0" y="995.3" font-size="11" text-anchor="middle" fill="#858585" letter-spacing="-0.3">19</text>
<line x1="623.5" y1="981" x2="623.5" y2="984.5" stroke="#7f93a0" stroke-width="1"/>
<text x="622.0" y="995.3" font-size="11" text-anchor="middle" fill="#858585" letter-spacing="-0.3">26</text>
<line x1="650.5" y1="981" x2="650.5" y2="984.5" stroke="#7f93a0" stroke-width="1"/>
<text x="649.0" y="995.3" font-size="11" text-anchor="middle" fill="#858585" letter-spacing="-0.3" font-weight="bold">feb</text>
<line x1="690.5" y1="981" x2="690.5" y2="984.5" stroke="#7f93a0" stroke-width="1"/>
<text x="689.0" y="995.3" font-size="11" text-anchor="middle" fill="#858585" letter-spacing="-0.3">09</text>
<line x1="724.5" y1="981" x2="724.5" y2="984.5" stroke="#7f93a0" stroke-width="1"/>
<text x="723.0" y="995.3" font-size="11" text-anchor="middle" fill="#858585" letter-spacing="-0.3">16</text>
<line x1="758.5" y1="981" x2="758.5" y2="984.5" stroke="#7f93a0" stroke-width="1"/>
<text x="757.0" y="995.3" font-size="11" text-anchor="middle" fill="#858585" letter-spacing="-0.3">23</text>
<line x1="792.5" y1="981" x2="792.5" y2="984.5" stroke="#7f93a0" stroke-width="1"/>
<text x="791.0" y="995.3" font-size="11" text-anchor="middle" fill="#858585" letter-spacing="-0.3" font-weight="bold">mar</text>
<line x1="826.5" y1="981" x2="826.5" y2="984.5" stroke="#7f93a0" stroke-width="1"/>
<text x="825.0" y="995.3" font-size="11" text-anchor="middle" fill="#858585" letter-spacing="-0.3">08</text>
<line x1="860.5" y1="981" x2="860.5" y2="984.5" stroke="#7f93a0" stroke-width="1"/>
<text x="859.0" y="995.3" font-size="11" text-anchor="middle" fill="#858585" letter-spacing="-0.3">15</text>
<line x1="894.5" y1="981" x2="894.5" y2="984.5" stroke="#7f93a0" stroke-width="1"/>
<text x="893.0" y="995.3" font-size="11" text-anchor="middle" fill="#858585" letter-spacing="-0.3">22</text>
<line x1="928.5" y1="981" x2="928.5" y2="984.5" stroke="#7f93a0" stroke-width="1"/>
<text x="927.0" y="995.3" font-size="11" text-anchor="middle" fill="#858585" letter-spacing="-0.3" font-weight="bold">abr</text>
<line x1="962.5" y1="981" x2="962.5" y2="984.5" stroke="#7f93a0" stroke-width="1"/>
<text x="961.0" y="995.3" font-size="11" text-anchor="middle" fill="#858585" letter-spacing="-0.3">09</text>
<line x1="996.5" y1="981" x2="996.5" y2="984.5" stroke="#7f93a0" stroke-width="1"/>
<text x="995.0" y="995.3" font-size="11" text-anchor="middle" fill="#858585" letter-spacing="-0.3">16</text>
<line x1="1030.5" y1="981" x2="1030.5" y2="984.5" stroke="#7f93a0" stroke-width="1"/>
<text x="1029.0" y="995.3" font-size="11" text-anchor="middle" fill="#858585" letter-spacing="-0.3">23</text>
<line x1="1070.5" y1="981" x2="1070.5" y2="984.5" stroke="#7f93a0" stroke-width="1"/>
<text x="1068.5" y="995.3" font-size="11" text-anchor="middle" fill="#858585" letter-spacing="-0.3" font-weight="bold">may</text>
<line x1="1098.5" y1="981" x2="1098.5" y2="984.5" stroke="#7f93a0" stroke-width="1"/>
<text x="1097.0" y="995.3" font-size="11" text-anchor="middle" fill="#858585" letter-spacing="-0.3">08</text>
<line x1="1131.5" y1="981" x2="1131.5" y2="984.5" stroke="#7f93a0" stroke-width="1"/>
<text x="1130.0" y="995.3" font-size="11" text-anchor="middle" fill="#858585" letter-spacing="-0.3">15</text>
<line x1="1165.5" y1="981" x2="1165.5" y2="984.5" stroke="#7f93a0" stroke-width="1"/>
<text x="1164.0" y="995.3" font-size="11" text-anchor="middle" fill="#858585" letter-spacing="-0.3">22</text>
<line x1="1199.5" y1="981" x2="1199.5" y2="984.5" stroke="#7f93a0" stroke-width="1"/>
<text x="1198.0" y="995.3" font-size="11" text-anchor="middle" fill="#858585" letter-spacing="-0.3">29</text>
<line x1="1220.5" y1="981" x2="1220.5" y2="984.5" stroke="#7f93a0" stroke-width="1"/>
<text x="1219.0" y="995.3" font-size="11" text-anchor="middle" fill="#858585" letter-spacing="-0.3" font-weight="bold">jun</text>
<line x1="1267.5" y1="981" x2="1267.5" y2="984.5" stroke="#7f93a0" stroke-width="1"/>
<text x="1266.0" y="995.3" font-size="11" text-anchor="middle" fill="#858585" letter-spacing="-0.3">12</text>
<line x1="1301.5" y1="981" x2="1301.5" y2="984.5" stroke="#7f93a0" stroke-width="1"/>
<text x="1300.0" y="995.3" font-size="11" text-anchor="middle" fill="#858585" letter-spacing="-0.3">19</text>
<line x1="1335.5" y1="981" x2="1335.5" y2="984.5" stroke="#7f93a0" stroke-width="1"/>
<text x="1334.0" y="995.3" font-size="11" text-anchor="middle" fill="#858585" letter-spacing="-0.3">26</text>
<line x1="1355.5" y1="981" x2="1355.5" y2="984.5" stroke="#7f93a0" stroke-width="1"/>
<text x="1354.0" y="995.3" font-size="11" text-anchor="middle" fill="#858585" letter-spacing="-0.3" font-weight="bold">jul</text>
<line x1="1403.5" y1="981" x2="1403.5" y2="984.5" stroke="#7f93a0" stroke-width="1"/>
<text x="1402.0" y="995.3" font-size="11" text-anchor="middle" fill="#858585" letter-spacing="-0.3">10</text>
<line x1="1437.5" y1="981" x2="1437.5" y2="984.5" stroke="#7f93a0" stroke-width="1"/>
<text x="1436.0" y="995.3" font-size="11" text-anchor="middle" fill="#858585" letter-spacing="-0.3">17</text>
<line x1="1471.5" y1="981" x2="1471.5" y2="984.5" stroke="#7f93a0" stroke-width="1"/>
<text x="1470.0" y="995.3" font-size="11" text-anchor="middle" fill="#858585" letter-spacing="-0.3">24</text>
<line x1="1511.5" y1="981" x2="1511.5" y2="984.5" stroke="#7f93a0" stroke-width="1"/>
<text x="1508.5" y="995.3" font-size="11" text-anchor="middle" fill="#858585" letter-spacing="-0.3" font-weight="bold">ago</text>
<line x1="1539.5" y1="981" x2="1539.5" y2="984.5" stroke="#7f93a0" stroke-width="1"/>
<text x="1538.0" y="995.3" font-size="11" text-anchor="middle" fill="#858585" letter-spacing="-0.3">07</text>
<line x1="1573.5" y1="981" x2="1573.5" y2="984.5" stroke="#7f93a0" stroke-width="1"/>
<text x="1572.0" y="995.3" font-size="11" text-anchor="middle" fill="#858585" letter-spacing="-0.3">14</text>
<line x1="1606.5" y1="981" x2="1606.5" y2="984.5" stroke="#7f93a0" stroke-width="1"/>
<text x="1605.0" y="995.3" font-size="11" text-anchor="middle" fill="#858585" letter-spacing="-0.3">21</text>
<line x1="1640.5" y1="981" x2="1640.5" y2="984.5" stroke="#7f93a0" stroke-width="1"/>
<text x="1639.0" y="995.3" font-size="11" text-anchor="middle" fill="#858585" letter-spacing="-0.3">28</text>
<line x1="1661.5" y1="981" x2="1661.5" y2="984.5" stroke="#7f93a0" stroke-width="1"/>
<text x="1660.0" y="995.3" font-size="11" text-anchor="middle" fill="#858585" letter-spacing="-0.3" font-weight="bold">sept</text>
<line x1="1708.5" y1="981" x2="1708.5" y2="984.5" stroke="#7f93a0" stroke-width="1"/>
<text x="1707.0" y="995.3" font-size="11" text-anchor="middle" fill="#858585" letter-spacing="-0.3">11</text>
<line x1="80.5" y1="981" x2="80.5" y2="984.5" stroke="#7f93a0" stroke-width="1"/>
<line x1="215.5" y1="981" x2="215.5" y2="984.5" stroke="#7f93a0" stroke-width="1"/>
<line x1="385.5" y1="981" x2="385.5" y2="984.5" stroke="#7f93a0" stroke-width="1"/>
<line x1="487.5" y1="981" x2="487.5" y2="984.5" stroke="#7f93a0" stroke-width="1"/>
<line x1="521.5" y1="981" x2="521.5" y2="984.5" stroke="#7f93a0" stroke-width="1"/>
<line x1="656.5" y1="981" x2="656.5" y2="984.5" stroke="#7f93a0" stroke-width="1"/>
<line x1="1064.5" y1="981" x2="1064.5" y2="984.5" stroke="#7f93a0" stroke-width="1"/>
<line x1="1233.5" y1="981" x2="1233.5" y2="984.5" stroke="#7f93a0" stroke-width="1"/>
<line x1="1369.5" y1="981" x2="1369.5" y2="984.5" stroke="#7f93a0" stroke-width="1"/>
<line x1="1505.5" y1="981" x2="1505.5" y2="984.5" stroke="#7f93a0" stroke-width="1"/>
<line x1="1674.5" y1="981" x2="1674.5" y2="984.5" stroke="#7f93a0" stroke-width="1"/>
<rect x="1" y="20.4" width="77.6" height="18.6" fill="#e4ecf2"/>
<rect x="1" y="20.4" width="77.6" height="6" fill="#ebf2f7"/>
<path d="M1,38.5 H78.1 V20.4" fill="none" stroke="#93a5b2" stroke-width="1.1"/>
<rect x="4.8" y="25.5" width="4.7" height="9" fill="#4ccc4c"/><rect x="9.5" y="25.5" width="4.7" height="9" fill="#e86060"/>
<clipPath id="c1_20"><rect x="19.4" y="20.4" width="59.199999999999996" height="19"/></clipPath>
<text x="16.4" y="33.7" font-size="10.3" fill="#000" textLength="27.6" lengthAdjust="spacingAndGlyphs" clip-path="url(#c1_20)">Precio</text>
<g transform="translate(44.1,21.0)"><path d="M7.2,12.8 L9.2,14.6 L13.3,10.6 L17.1,10.1 L18.4,9 L18.4,6.7 L14.7,7.2 L14.4,4.6 L15.5,3.4 L12.7,3.4 L11.2,4.9 L11.2,8.6 Z" fill="#edf3f7" stroke="#507a9a" stroke-width="1.1" stroke-linejoin="round"/><path d="M24.9,4.9 h3.4 v2.7 h2.7 v3.4 h-2.7 v2.7 h-3.4 v-2.7 h-2.7 v-3.4 h2.7 z" fill="#4b7596" stroke="#4b7596" stroke-width="0.5" stroke-linejoin="round"/></g>
<rect x="78.6" y="20.4" width="70.20000000000002" height="18.6" fill="#e4ecf2"/>
<rect x="78.6" y="20.4" width="70.20000000000002" height="6" fill="#ebf2f7"/>
<path d="M78.6,38.5 H148.3 V20.4" fill="none" stroke="#93a5b2" stroke-width="1.1"/>
<rect x="82.39999999999999" y="25.5" width="9.6" height="9.2" fill="#fa0000"/>
<clipPath id="c78_20"><rect x="95.2" y="20.4" width="53.60000000000001" height="19"/></clipPath>
<text x="94.4" y="33.7" font-size="10.3" fill="#000" textLength="47.8" lengthAdjust="spacingAndGlyphs" clip-path="url(#c78_20)">SMA (200)</text>
<line x1="78.6" y1="20.4" x2="78.6" y2="38.5" stroke="#93a5b2" stroke-width="1.1"/>
<rect x="1" y="652.4" width="123" height="18.6" fill="#e4ecf2"/>
<rect x="1" y="652.4" width="123" height="6" fill="#ebf2f7"/>
<path d="M1,670.5 H123.5 V652.4" fill="none" stroke="#93a5b2" stroke-width="1.1"/>
<rect x="4.8" y="657.5" width="9.6" height="9.2" fill="#e83030"/>
<clipPath id="c1_652"><rect x="18.2" y="652.4" width="105.8" height="19"/></clipPath>
<text x="17.4" y="665.6999999999999" font-size="10.3" fill="#000" textLength="67.6" lengthAdjust="spacingAndGlyphs" clip-path="url(#c1_652)">ATR Porcentaje</text>
<g transform="translate(88,653.0)"><path d="M7.2,12.8 L9.2,14.6 L13.3,10.6 L17.1,10.1 L18.4,9 L18.4,6.7 L14.7,7.2 L14.4,4.6 L15.5,3.4 L12.7,3.4 L11.2,4.9 L11.2,8.6 Z" fill="#edf3f7" stroke="#507a9a" stroke-width="1.1" stroke-linejoin="round"/><path d="M24.9,4.9 h3.4 v2.7 h2.7 v3.4 h-2.7 v2.7 h-3.4 v-2.7 h-2.7 v-3.4 h2.7 z" fill="#4b7596" stroke="#4b7596" stroke-width="0.5" stroke-linejoin="round"/></g>
<rect x="1" y="734.7" width="125" height="18.6" fill="#e4ecf2"/>
<rect x="1" y="734.7" width="125" height="6" fill="#ebf2f7"/>
<path d="M1,752.8000000000001 H125.5 V734.7" fill="none" stroke="#93a5b2" stroke-width="1.1"/>
<rect x="4.8" y="739.8000000000001" width="3.2" height="9" fill="#4ccc4c"/><rect x="8" y="739.8000000000001" width="3.2" height="9" fill="#e86060"/><rect x="11.2" y="739.8000000000001" width="3.2" height="9" fill="#3030e0"/>
<clipPath id="c1_734"><rect x="18.4" y="734.7" width="107.6" height="19"/></clipPath>
<text x="16.4" y="748.0" font-size="10.3" fill="#000" textLength="71" lengthAdjust="spacingAndGlyphs" clip-path="url(#c1_734)">MACD (12 26 9)</text>
<g transform="translate(90,735.3000000000001)"><path d="M7.2,12.8 L9.2,14.6 L13.3,10.6 L17.1,10.1 L18.4,9 L18.4,6.7 L14.7,7.2 L14.4,4.6 L15.5,3.4 L12.7,3.4 L11.2,4.9 L11.2,8.6 Z" fill="#edf3f7" stroke="#507a9a" stroke-width="1.1" stroke-linejoin="round"/><path d="M24.9,4.9 h3.4 v2.7 h2.7 v3.4 h-2.7 v2.7 h-3.4 v-2.7 h-2.7 v-3.4 h2.7 z" fill="#4b7596" stroke="#4b7596" stroke-width="0.5" stroke-linejoin="round"/></g>
<rect x="1" y="886.4" width="89.8" height="18.6" fill="#e4ecf2"/>
<rect x="1" y="886.4" width="89.8" height="6" fill="#ebf2f7"/>
<path d="M1,904.5 H90.3 V886.4" fill="none" stroke="#93a5b2" stroke-width="1.1"/>
<rect x="4.8" y="891.5" width="4.7" height="9" fill="#4ccc4c"/><rect x="9.5" y="891.5" width="4.7" height="9" fill="#e86060"/>
<clipPath id="c1_886"><rect x="17.8" y="886.4" width="73.0" height="19"/></clipPath>
<text x="16.8" y="899.6999999999999" font-size="10.3" fill="#000" textLength="38.3" lengthAdjust="spacingAndGlyphs" clip-path="url(#c1_886)">Volumen</text>
<g transform="translate(54.7,887.0)"><path d="M7.2,12.8 L9.2,14.6 L13.3,10.6 L17.1,10.1 L18.4,9 L18.4,6.7 L14.7,7.2 L14.4,4.6 L15.5,3.4 L12.7,3.4 L11.2,4.9 L11.2,8.6 Z" fill="#edf3f7" stroke="#507a9a" stroke-width="1.1" stroke-linejoin="round"/><path d="M24.9,4.9 h3.4 v2.7 h2.7 v3.4 h-2.7 v2.7 h-3.4 v-2.7 h-2.7 v-3.4 h2.7 z" fill="#4b7596" stroke="#4b7596" stroke-width="0.5" stroke-linejoin="round"/></g>
<g stroke="#4aa8e8" stroke-width="1" fill="none"><path d="M6,9.2V18.5M10.5,7.2V9M10.5,13.5V15.7M15.4,3.8V5.6M15.4,10.6V12.8"/><rect x="5.1" y="11.4" width="1.8" height="6" fill="#4aa8e8"/><rect x="9.5" y="9.3" width="2" height="4.2" fill="#d4eefc"/><rect x="14.4" y="5.9" width="2" height="4.6" fill="#d4eefc"/></g>
<text x="20.6" y="15.6" font-size="10.4" font-weight="bold" fill="#000" textLength="228.8" lengthAdjust="spacingAndGlyphs">INDRA A Diario 16,97 +0,00 % 7 ago 2024 9:36:07</text>
<text x="1655.2" y="15.6" font-size="10.4" font-weight="bold" fill="#000" textLength="119.4" lengthAdjust="spacingAndGlyphs">www.ProRealTime.com</text>
<text x="2" y="650" font-size="10" fill="#8a8a8a" textLength="75.9" lengthAdjust="spacingAndGlyphs">ProRealTime.com</text>
<text x="82.4" y="650" font-size="10" fill="#8a8a8a" textLength="193.6" lengthAdjust="spacingAndGlyphs">Datos históricos ajustados a los dividendos</text>
<line x1="0" y1="652.5" x2="130" y2="652.5" stroke="#8e9fac" stroke-width="1.2"/>
<line x1="0" y1="734.8" x2="130" y2="734.8" stroke="#8e9fac" stroke-width="1.2"/>
<line x1="0" y1="886.5" x2="130" y2="886.5" stroke="#8e9fac" stroke-width="1.2"/>
</svg>
<div class="frame" style="left:0;top:0;width:1px;height:1000px"></div>
<div class="frame" style="left:1777px;top:0;width:1px;height:1000px"></div>
<div class="frame" style="left:0;top:999px;width:1778px;height:1px"></div>
</body></html>
